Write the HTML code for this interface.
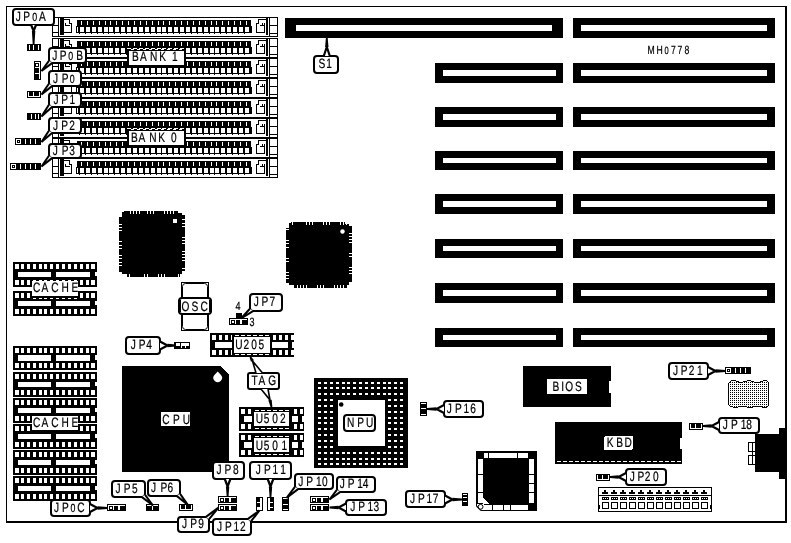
<!DOCTYPE html>
<html><head><meta charset="utf-8"><title>MH0778 motherboard layout</title>
<style>
html,body{margin:0;padding:0;background:#fff;}
svg{display:block;filter:grayscale(1);}
text{font-family:'Liberation Sans', sans-serif;}
</style></head><body>
<svg width="791" height="543" viewBox="0 0 791 543" shape-rendering="crispEdges" text-rendering="geometricPrecision">
<rect x="0" y="0" width="791" height="543" fill="#fff"/>
<rect x="6" y="6" width="781" height="1" fill="#000"/>
<rect x="6" y="6" width="1" height="517" fill="#000"/>
<rect x="785" y="6" width="2" height="517" fill="#000"/>
<rect x="6" y="521" width="781" height="2" fill="#000"/>
<rect x="52" y="17" width="226" height="20" fill="#000"/>
<rect x="53" y="18" width="224" height="18" fill="#fff"/>
<rect x="58" y="17" width="1" height="20" fill="#000"/>
<rect x="52" y="25" width="6" height="1" fill="#000"/>
<rect x="52" y="32" width="6" height="1" fill="#000"/>
<rect x="60" y="17" width="4" height="18" fill="#000"/>
<rect x="63" y="19" width="7" height="1" fill="#000"/>
<rect x="63" y="19" width="1" height="14" fill="#000"/>
<rect x="63" y="32" width="9" height="1" fill="#000"/>
<rect x="71" y="23" width="1" height="10" fill="#000"/>
<rect x="69" y="19" width="1" height="5" fill="#000"/>
<rect x="69" y="23" width="3" height="1" fill="#000"/>
<rect x="65" y="23" width="1" height="3" fill="#000"/>
<rect x="65" y="25" width="5" height="1" fill="#000"/>
<rect x="77" y="20" width="174" height="6" fill="#000"/>
<rect x="76" y="26" width="176" height="7" fill="#000"/>
<rect x="80" y="27" width="4" height="5" fill="#fff"/>
<rect x="81" y="21" width="1" height="4" fill="#fff"/>
<rect x="79" y="33" width="1" height="1" fill="#000"/>
<rect x="86" y="27" width="4" height="5" fill="#fff"/>
<rect x="87" y="21" width="1" height="4" fill="#fff"/>
<rect x="85" y="33" width="1" height="1" fill="#000"/>
<rect x="92" y="27" width="4" height="5" fill="#fff"/>
<rect x="93" y="21" width="1" height="4" fill="#fff"/>
<rect x="91" y="33" width="1" height="1" fill="#000"/>
<rect x="98" y="27" width="4" height="5" fill="#fff"/>
<rect x="99" y="21" width="1" height="4" fill="#fff"/>
<rect x="97" y="33" width="1" height="1" fill="#000"/>
<rect x="104" y="27" width="4" height="5" fill="#fff"/>
<rect x="105" y="21" width="1" height="4" fill="#fff"/>
<rect x="103" y="33" width="1" height="1" fill="#000"/>
<rect x="109" y="27" width="4" height="5" fill="#fff"/>
<rect x="110" y="21" width="1" height="4" fill="#fff"/>
<rect x="108" y="33" width="1" height="1" fill="#000"/>
<rect x="115" y="27" width="4" height="5" fill="#fff"/>
<rect x="116" y="21" width="1" height="4" fill="#fff"/>
<rect x="114" y="33" width="1" height="1" fill="#000"/>
<rect x="121" y="27" width="4" height="5" fill="#fff"/>
<rect x="122" y="21" width="1" height="4" fill="#fff"/>
<rect x="120" y="33" width="1" height="1" fill="#000"/>
<rect x="127" y="27" width="4" height="5" fill="#fff"/>
<rect x="128" y="21" width="1" height="4" fill="#fff"/>
<rect x="126" y="33" width="1" height="1" fill="#000"/>
<rect x="133" y="27" width="4" height="5" fill="#fff"/>
<rect x="134" y="21" width="1" height="4" fill="#fff"/>
<rect x="132" y="33" width="1" height="1" fill="#000"/>
<rect x="139" y="27" width="4" height="5" fill="#fff"/>
<rect x="140" y="21" width="1" height="4" fill="#fff"/>
<rect x="138" y="33" width="1" height="1" fill="#000"/>
<rect x="145" y="27" width="4" height="5" fill="#fff"/>
<rect x="146" y="21" width="1" height="4" fill="#fff"/>
<rect x="144" y="33" width="1" height="1" fill="#000"/>
<rect x="151" y="27" width="4" height="5" fill="#fff"/>
<rect x="152" y="21" width="1" height="4" fill="#fff"/>
<rect x="150" y="33" width="1" height="1" fill="#000"/>
<rect x="157" y="27" width="4" height="5" fill="#fff"/>
<rect x="158" y="21" width="1" height="4" fill="#fff"/>
<rect x="156" y="33" width="1" height="1" fill="#000"/>
<rect x="162" y="27" width="4" height="5" fill="#fff"/>
<rect x="163" y="21" width="1" height="4" fill="#fff"/>
<rect x="161" y="33" width="1" height="1" fill="#000"/>
<rect x="168" y="27" width="4" height="5" fill="#fff"/>
<rect x="169" y="21" width="1" height="4" fill="#fff"/>
<rect x="167" y="33" width="1" height="1" fill="#000"/>
<rect x="174" y="27" width="4" height="5" fill="#fff"/>
<rect x="175" y="21" width="1" height="4" fill="#fff"/>
<rect x="173" y="33" width="1" height="1" fill="#000"/>
<rect x="180" y="27" width="4" height="5" fill="#fff"/>
<rect x="181" y="21" width="1" height="4" fill="#fff"/>
<rect x="179" y="33" width="1" height="1" fill="#000"/>
<rect x="186" y="27" width="4" height="5" fill="#fff"/>
<rect x="187" y="21" width="1" height="4" fill="#fff"/>
<rect x="185" y="33" width="1" height="1" fill="#000"/>
<rect x="192" y="27" width="4" height="5" fill="#fff"/>
<rect x="193" y="21" width="1" height="4" fill="#fff"/>
<rect x="191" y="33" width="1" height="1" fill="#000"/>
<rect x="198" y="27" width="4" height="5" fill="#fff"/>
<rect x="199" y="21" width="1" height="4" fill="#fff"/>
<rect x="197" y="33" width="1" height="1" fill="#000"/>
<rect x="204" y="27" width="4" height="5" fill="#fff"/>
<rect x="205" y="21" width="1" height="4" fill="#fff"/>
<rect x="203" y="33" width="1" height="1" fill="#000"/>
<rect x="210" y="27" width="4" height="5" fill="#fff"/>
<rect x="211" y="21" width="1" height="4" fill="#fff"/>
<rect x="209" y="33" width="1" height="1" fill="#000"/>
<rect x="215" y="27" width="4" height="5" fill="#fff"/>
<rect x="216" y="21" width="1" height="4" fill="#fff"/>
<rect x="214" y="33" width="1" height="1" fill="#000"/>
<rect x="221" y="27" width="4" height="5" fill="#fff"/>
<rect x="222" y="21" width="1" height="4" fill="#fff"/>
<rect x="220" y="33" width="1" height="1" fill="#000"/>
<rect x="227" y="27" width="4" height="5" fill="#fff"/>
<rect x="228" y="21" width="1" height="4" fill="#fff"/>
<rect x="226" y="33" width="1" height="1" fill="#000"/>
<rect x="233" y="27" width="4" height="5" fill="#fff"/>
<rect x="234" y="21" width="1" height="4" fill="#fff"/>
<rect x="232" y="33" width="1" height="1" fill="#000"/>
<rect x="239" y="27" width="4" height="5" fill="#fff"/>
<rect x="240" y="21" width="1" height="4" fill="#fff"/>
<rect x="238" y="33" width="1" height="1" fill="#000"/>
<rect x="245" y="27" width="4" height="5" fill="#fff"/>
<rect x="246" y="21" width="1" height="4" fill="#fff"/>
<rect x="244" y="33" width="1" height="1" fill="#000"/>
<rect x="77" y="27" width="1" height="5" fill="#fff"/>
<rect x="258" y="19" width="8" height="1" fill="#000"/>
<rect x="258" y="19" width="1" height="5" fill="#000"/>
<rect x="256" y="23" width="3" height="1" fill="#000"/>
<rect x="256" y="23" width="1" height="10" fill="#000"/>
<rect x="256" y="32" width="9" height="1" fill="#000"/>
<rect x="264" y="23" width="1" height="10" fill="#000"/>
<rect x="260" y="25" width="5" height="1" fill="#000"/>
<rect x="262" y="23" width="1" height="3" fill="#000"/>
<rect x="266" y="17" width="2" height="18" fill="#000"/>
<rect x="269" y="17" width="1" height="20" fill="#000"/>
<rect x="270" y="25" width="8" height="1" fill="#000"/>
<rect x="270" y="33" width="8" height="1" fill="#000"/>
<rect x="52" y="38" width="226" height="20" fill="#000"/>
<rect x="53" y="39" width="224" height="18" fill="#fff"/>
<rect x="58" y="38" width="1" height="20" fill="#000"/>
<rect x="52" y="46" width="6" height="1" fill="#000"/>
<rect x="52" y="53" width="6" height="1" fill="#000"/>
<rect x="60" y="38" width="4" height="18" fill="#000"/>
<rect x="63" y="40" width="7" height="1" fill="#000"/>
<rect x="63" y="40" width="1" height="14" fill="#000"/>
<rect x="63" y="53" width="9" height="1" fill="#000"/>
<rect x="71" y="44" width="1" height="10" fill="#000"/>
<rect x="69" y="40" width="1" height="5" fill="#000"/>
<rect x="69" y="44" width="3" height="1" fill="#000"/>
<rect x="65" y="44" width="1" height="3" fill="#000"/>
<rect x="65" y="46" width="5" height="1" fill="#000"/>
<rect x="77" y="41" width="174" height="6" fill="#000"/>
<rect x="76" y="47" width="176" height="7" fill="#000"/>
<rect x="80" y="48" width="4" height="5" fill="#fff"/>
<rect x="81" y="42" width="1" height="4" fill="#fff"/>
<rect x="79" y="54" width="1" height="1" fill="#000"/>
<rect x="86" y="48" width="4" height="5" fill="#fff"/>
<rect x="87" y="42" width="1" height="4" fill="#fff"/>
<rect x="85" y="54" width="1" height="1" fill="#000"/>
<rect x="92" y="48" width="4" height="5" fill="#fff"/>
<rect x="93" y="42" width="1" height="4" fill="#fff"/>
<rect x="91" y="54" width="1" height="1" fill="#000"/>
<rect x="98" y="48" width="4" height="5" fill="#fff"/>
<rect x="99" y="42" width="1" height="4" fill="#fff"/>
<rect x="97" y="54" width="1" height="1" fill="#000"/>
<rect x="104" y="48" width="4" height="5" fill="#fff"/>
<rect x="105" y="42" width="1" height="4" fill="#fff"/>
<rect x="103" y="54" width="1" height="1" fill="#000"/>
<rect x="109" y="48" width="4" height="5" fill="#fff"/>
<rect x="110" y="42" width="1" height="4" fill="#fff"/>
<rect x="108" y="54" width="1" height="1" fill="#000"/>
<rect x="115" y="48" width="4" height="5" fill="#fff"/>
<rect x="116" y="42" width="1" height="4" fill="#fff"/>
<rect x="114" y="54" width="1" height="1" fill="#000"/>
<rect x="121" y="48" width="4" height="5" fill="#fff"/>
<rect x="122" y="42" width="1" height="4" fill="#fff"/>
<rect x="120" y="54" width="1" height="1" fill="#000"/>
<rect x="127" y="48" width="4" height="5" fill="#fff"/>
<rect x="128" y="42" width="1" height="4" fill="#fff"/>
<rect x="126" y="54" width="1" height="1" fill="#000"/>
<rect x="133" y="48" width="4" height="5" fill="#fff"/>
<rect x="134" y="42" width="1" height="4" fill="#fff"/>
<rect x="132" y="54" width="1" height="1" fill="#000"/>
<rect x="139" y="48" width="4" height="5" fill="#fff"/>
<rect x="140" y="42" width="1" height="4" fill="#fff"/>
<rect x="138" y="54" width="1" height="1" fill="#000"/>
<rect x="145" y="48" width="4" height="5" fill="#fff"/>
<rect x="146" y="42" width="1" height="4" fill="#fff"/>
<rect x="144" y="54" width="1" height="1" fill="#000"/>
<rect x="151" y="48" width="4" height="5" fill="#fff"/>
<rect x="152" y="42" width="1" height="4" fill="#fff"/>
<rect x="150" y="54" width="1" height="1" fill="#000"/>
<rect x="157" y="48" width="4" height="5" fill="#fff"/>
<rect x="158" y="42" width="1" height="4" fill="#fff"/>
<rect x="156" y="54" width="1" height="1" fill="#000"/>
<rect x="162" y="48" width="4" height="5" fill="#fff"/>
<rect x="163" y="42" width="1" height="4" fill="#fff"/>
<rect x="161" y="54" width="1" height="1" fill="#000"/>
<rect x="168" y="48" width="4" height="5" fill="#fff"/>
<rect x="169" y="42" width="1" height="4" fill="#fff"/>
<rect x="167" y="54" width="1" height="1" fill="#000"/>
<rect x="174" y="48" width="4" height="5" fill="#fff"/>
<rect x="175" y="42" width="1" height="4" fill="#fff"/>
<rect x="173" y="54" width="1" height="1" fill="#000"/>
<rect x="180" y="48" width="4" height="5" fill="#fff"/>
<rect x="181" y="42" width="1" height="4" fill="#fff"/>
<rect x="179" y="54" width="1" height="1" fill="#000"/>
<rect x="186" y="48" width="4" height="5" fill="#fff"/>
<rect x="187" y="42" width="1" height="4" fill="#fff"/>
<rect x="185" y="54" width="1" height="1" fill="#000"/>
<rect x="192" y="48" width="4" height="5" fill="#fff"/>
<rect x="193" y="42" width="1" height="4" fill="#fff"/>
<rect x="191" y="54" width="1" height="1" fill="#000"/>
<rect x="198" y="48" width="4" height="5" fill="#fff"/>
<rect x="199" y="42" width="1" height="4" fill="#fff"/>
<rect x="197" y="54" width="1" height="1" fill="#000"/>
<rect x="204" y="48" width="4" height="5" fill="#fff"/>
<rect x="205" y="42" width="1" height="4" fill="#fff"/>
<rect x="203" y="54" width="1" height="1" fill="#000"/>
<rect x="210" y="48" width="4" height="5" fill="#fff"/>
<rect x="211" y="42" width="1" height="4" fill="#fff"/>
<rect x="209" y="54" width="1" height="1" fill="#000"/>
<rect x="215" y="48" width="4" height="5" fill="#fff"/>
<rect x="216" y="42" width="1" height="4" fill="#fff"/>
<rect x="214" y="54" width="1" height="1" fill="#000"/>
<rect x="221" y="48" width="4" height="5" fill="#fff"/>
<rect x="222" y="42" width="1" height="4" fill="#fff"/>
<rect x="220" y="54" width="1" height="1" fill="#000"/>
<rect x="227" y="48" width="4" height="5" fill="#fff"/>
<rect x="228" y="42" width="1" height="4" fill="#fff"/>
<rect x="226" y="54" width="1" height="1" fill="#000"/>
<rect x="233" y="48" width="4" height="5" fill="#fff"/>
<rect x="234" y="42" width="1" height="4" fill="#fff"/>
<rect x="232" y="54" width="1" height="1" fill="#000"/>
<rect x="239" y="48" width="4" height="5" fill="#fff"/>
<rect x="240" y="42" width="1" height="4" fill="#fff"/>
<rect x="238" y="54" width="1" height="1" fill="#000"/>
<rect x="245" y="48" width="4" height="5" fill="#fff"/>
<rect x="246" y="42" width="1" height="4" fill="#fff"/>
<rect x="244" y="54" width="1" height="1" fill="#000"/>
<rect x="77" y="48" width="1" height="5" fill="#fff"/>
<rect x="258" y="40" width="8" height="1" fill="#000"/>
<rect x="258" y="40" width="1" height="5" fill="#000"/>
<rect x="256" y="44" width="3" height="1" fill="#000"/>
<rect x="256" y="44" width="1" height="10" fill="#000"/>
<rect x="256" y="53" width="9" height="1" fill="#000"/>
<rect x="264" y="44" width="1" height="10" fill="#000"/>
<rect x="260" y="46" width="5" height="1" fill="#000"/>
<rect x="262" y="44" width="1" height="3" fill="#000"/>
<rect x="266" y="38" width="2" height="18" fill="#000"/>
<rect x="269" y="38" width="1" height="20" fill="#000"/>
<rect x="270" y="46" width="8" height="1" fill="#000"/>
<rect x="270" y="54" width="8" height="1" fill="#000"/>
<rect x="52" y="58" width="226" height="20" fill="#000"/>
<rect x="53" y="59" width="224" height="18" fill="#fff"/>
<rect x="58" y="58" width="1" height="20" fill="#000"/>
<rect x="52" y="66" width="6" height="1" fill="#000"/>
<rect x="52" y="73" width="6" height="1" fill="#000"/>
<rect x="60" y="58" width="4" height="18" fill="#000"/>
<rect x="63" y="60" width="7" height="1" fill="#000"/>
<rect x="63" y="60" width="1" height="14" fill="#000"/>
<rect x="63" y="73" width="9" height="1" fill="#000"/>
<rect x="71" y="64" width="1" height="10" fill="#000"/>
<rect x="69" y="60" width="1" height="5" fill="#000"/>
<rect x="69" y="64" width="3" height="1" fill="#000"/>
<rect x="65" y="64" width="1" height="3" fill="#000"/>
<rect x="65" y="66" width="5" height="1" fill="#000"/>
<rect x="77" y="61" width="174" height="6" fill="#000"/>
<rect x="76" y="67" width="176" height="7" fill="#000"/>
<rect x="80" y="68" width="4" height="5" fill="#fff"/>
<rect x="81" y="62" width="1" height="4" fill="#fff"/>
<rect x="79" y="74" width="1" height="1" fill="#000"/>
<rect x="86" y="68" width="4" height="5" fill="#fff"/>
<rect x="87" y="62" width="1" height="4" fill="#fff"/>
<rect x="85" y="74" width="1" height="1" fill="#000"/>
<rect x="92" y="68" width="4" height="5" fill="#fff"/>
<rect x="93" y="62" width="1" height="4" fill="#fff"/>
<rect x="91" y="74" width="1" height="1" fill="#000"/>
<rect x="98" y="68" width="4" height="5" fill="#fff"/>
<rect x="99" y="62" width="1" height="4" fill="#fff"/>
<rect x="97" y="74" width="1" height="1" fill="#000"/>
<rect x="104" y="68" width="4" height="5" fill="#fff"/>
<rect x="105" y="62" width="1" height="4" fill="#fff"/>
<rect x="103" y="74" width="1" height="1" fill="#000"/>
<rect x="109" y="68" width="4" height="5" fill="#fff"/>
<rect x="110" y="62" width="1" height="4" fill="#fff"/>
<rect x="108" y="74" width="1" height="1" fill="#000"/>
<rect x="115" y="68" width="4" height="5" fill="#fff"/>
<rect x="116" y="62" width="1" height="4" fill="#fff"/>
<rect x="114" y="74" width="1" height="1" fill="#000"/>
<rect x="121" y="68" width="4" height="5" fill="#fff"/>
<rect x="122" y="62" width="1" height="4" fill="#fff"/>
<rect x="120" y="74" width="1" height="1" fill="#000"/>
<rect x="127" y="68" width="4" height="5" fill="#fff"/>
<rect x="128" y="62" width="1" height="4" fill="#fff"/>
<rect x="126" y="74" width="1" height="1" fill="#000"/>
<rect x="133" y="68" width="4" height="5" fill="#fff"/>
<rect x="134" y="62" width="1" height="4" fill="#fff"/>
<rect x="132" y="74" width="1" height="1" fill="#000"/>
<rect x="139" y="68" width="4" height="5" fill="#fff"/>
<rect x="140" y="62" width="1" height="4" fill="#fff"/>
<rect x="138" y="74" width="1" height="1" fill="#000"/>
<rect x="145" y="68" width="4" height="5" fill="#fff"/>
<rect x="146" y="62" width="1" height="4" fill="#fff"/>
<rect x="144" y="74" width="1" height="1" fill="#000"/>
<rect x="151" y="68" width="4" height="5" fill="#fff"/>
<rect x="152" y="62" width="1" height="4" fill="#fff"/>
<rect x="150" y="74" width="1" height="1" fill="#000"/>
<rect x="157" y="68" width="4" height="5" fill="#fff"/>
<rect x="158" y="62" width="1" height="4" fill="#fff"/>
<rect x="156" y="74" width="1" height="1" fill="#000"/>
<rect x="162" y="68" width="4" height="5" fill="#fff"/>
<rect x="163" y="62" width="1" height="4" fill="#fff"/>
<rect x="161" y="74" width="1" height="1" fill="#000"/>
<rect x="168" y="68" width="4" height="5" fill="#fff"/>
<rect x="169" y="62" width="1" height="4" fill="#fff"/>
<rect x="167" y="74" width="1" height="1" fill="#000"/>
<rect x="174" y="68" width="4" height="5" fill="#fff"/>
<rect x="175" y="62" width="1" height="4" fill="#fff"/>
<rect x="173" y="74" width="1" height="1" fill="#000"/>
<rect x="180" y="68" width="4" height="5" fill="#fff"/>
<rect x="181" y="62" width="1" height="4" fill="#fff"/>
<rect x="179" y="74" width="1" height="1" fill="#000"/>
<rect x="186" y="68" width="4" height="5" fill="#fff"/>
<rect x="187" y="62" width="1" height="4" fill="#fff"/>
<rect x="185" y="74" width="1" height="1" fill="#000"/>
<rect x="192" y="68" width="4" height="5" fill="#fff"/>
<rect x="193" y="62" width="1" height="4" fill="#fff"/>
<rect x="191" y="74" width="1" height="1" fill="#000"/>
<rect x="198" y="68" width="4" height="5" fill="#fff"/>
<rect x="199" y="62" width="1" height="4" fill="#fff"/>
<rect x="197" y="74" width="1" height="1" fill="#000"/>
<rect x="204" y="68" width="4" height="5" fill="#fff"/>
<rect x="205" y="62" width="1" height="4" fill="#fff"/>
<rect x="203" y="74" width="1" height="1" fill="#000"/>
<rect x="210" y="68" width="4" height="5" fill="#fff"/>
<rect x="211" y="62" width="1" height="4" fill="#fff"/>
<rect x="209" y="74" width="1" height="1" fill="#000"/>
<rect x="215" y="68" width="4" height="5" fill="#fff"/>
<rect x="216" y="62" width="1" height="4" fill="#fff"/>
<rect x="214" y="74" width="1" height="1" fill="#000"/>
<rect x="221" y="68" width="4" height="5" fill="#fff"/>
<rect x="222" y="62" width="1" height="4" fill="#fff"/>
<rect x="220" y="74" width="1" height="1" fill="#000"/>
<rect x="227" y="68" width="4" height="5" fill="#fff"/>
<rect x="228" y="62" width="1" height="4" fill="#fff"/>
<rect x="226" y="74" width="1" height="1" fill="#000"/>
<rect x="233" y="68" width="4" height="5" fill="#fff"/>
<rect x="234" y="62" width="1" height="4" fill="#fff"/>
<rect x="232" y="74" width="1" height="1" fill="#000"/>
<rect x="239" y="68" width="4" height="5" fill="#fff"/>
<rect x="240" y="62" width="1" height="4" fill="#fff"/>
<rect x="238" y="74" width="1" height="1" fill="#000"/>
<rect x="245" y="68" width="4" height="5" fill="#fff"/>
<rect x="246" y="62" width="1" height="4" fill="#fff"/>
<rect x="244" y="74" width="1" height="1" fill="#000"/>
<rect x="77" y="68" width="1" height="5" fill="#fff"/>
<rect x="258" y="60" width="8" height="1" fill="#000"/>
<rect x="258" y="60" width="1" height="5" fill="#000"/>
<rect x="256" y="64" width="3" height="1" fill="#000"/>
<rect x="256" y="64" width="1" height="10" fill="#000"/>
<rect x="256" y="73" width="9" height="1" fill="#000"/>
<rect x="264" y="64" width="1" height="10" fill="#000"/>
<rect x="260" y="66" width="5" height="1" fill="#000"/>
<rect x="262" y="64" width="1" height="3" fill="#000"/>
<rect x="266" y="58" width="2" height="18" fill="#000"/>
<rect x="269" y="58" width="1" height="20" fill="#000"/>
<rect x="270" y="66" width="8" height="1" fill="#000"/>
<rect x="270" y="74" width="8" height="1" fill="#000"/>
<rect x="52" y="78" width="226" height="20" fill="#000"/>
<rect x="53" y="79" width="224" height="18" fill="#fff"/>
<rect x="58" y="78" width="1" height="20" fill="#000"/>
<rect x="52" y="86" width="6" height="1" fill="#000"/>
<rect x="52" y="93" width="6" height="1" fill="#000"/>
<rect x="60" y="78" width="4" height="18" fill="#000"/>
<rect x="63" y="80" width="7" height="1" fill="#000"/>
<rect x="63" y="80" width="1" height="14" fill="#000"/>
<rect x="63" y="93" width="9" height="1" fill="#000"/>
<rect x="71" y="84" width="1" height="10" fill="#000"/>
<rect x="69" y="80" width="1" height="5" fill="#000"/>
<rect x="69" y="84" width="3" height="1" fill="#000"/>
<rect x="65" y="84" width="1" height="3" fill="#000"/>
<rect x="65" y="86" width="5" height="1" fill="#000"/>
<rect x="77" y="81" width="174" height="6" fill="#000"/>
<rect x="76" y="87" width="176" height="7" fill="#000"/>
<rect x="80" y="88" width="4" height="5" fill="#fff"/>
<rect x="81" y="82" width="1" height="4" fill="#fff"/>
<rect x="79" y="94" width="1" height="1" fill="#000"/>
<rect x="86" y="88" width="4" height="5" fill="#fff"/>
<rect x="87" y="82" width="1" height="4" fill="#fff"/>
<rect x="85" y="94" width="1" height="1" fill="#000"/>
<rect x="92" y="88" width="4" height="5" fill="#fff"/>
<rect x="93" y="82" width="1" height="4" fill="#fff"/>
<rect x="91" y="94" width="1" height="1" fill="#000"/>
<rect x="98" y="88" width="4" height="5" fill="#fff"/>
<rect x="99" y="82" width="1" height="4" fill="#fff"/>
<rect x="97" y="94" width="1" height="1" fill="#000"/>
<rect x="104" y="88" width="4" height="5" fill="#fff"/>
<rect x="105" y="82" width="1" height="4" fill="#fff"/>
<rect x="103" y="94" width="1" height="1" fill="#000"/>
<rect x="109" y="88" width="4" height="5" fill="#fff"/>
<rect x="110" y="82" width="1" height="4" fill="#fff"/>
<rect x="108" y="94" width="1" height="1" fill="#000"/>
<rect x="115" y="88" width="4" height="5" fill="#fff"/>
<rect x="116" y="82" width="1" height="4" fill="#fff"/>
<rect x="114" y="94" width="1" height="1" fill="#000"/>
<rect x="121" y="88" width="4" height="5" fill="#fff"/>
<rect x="122" y="82" width="1" height="4" fill="#fff"/>
<rect x="120" y="94" width="1" height="1" fill="#000"/>
<rect x="127" y="88" width="4" height="5" fill="#fff"/>
<rect x="128" y="82" width="1" height="4" fill="#fff"/>
<rect x="126" y="94" width="1" height="1" fill="#000"/>
<rect x="133" y="88" width="4" height="5" fill="#fff"/>
<rect x="134" y="82" width="1" height="4" fill="#fff"/>
<rect x="132" y="94" width="1" height="1" fill="#000"/>
<rect x="139" y="88" width="4" height="5" fill="#fff"/>
<rect x="140" y="82" width="1" height="4" fill="#fff"/>
<rect x="138" y="94" width="1" height="1" fill="#000"/>
<rect x="145" y="88" width="4" height="5" fill="#fff"/>
<rect x="146" y="82" width="1" height="4" fill="#fff"/>
<rect x="144" y="94" width="1" height="1" fill="#000"/>
<rect x="151" y="88" width="4" height="5" fill="#fff"/>
<rect x="152" y="82" width="1" height="4" fill="#fff"/>
<rect x="150" y="94" width="1" height="1" fill="#000"/>
<rect x="157" y="88" width="4" height="5" fill="#fff"/>
<rect x="158" y="82" width="1" height="4" fill="#fff"/>
<rect x="156" y="94" width="1" height="1" fill="#000"/>
<rect x="162" y="88" width="4" height="5" fill="#fff"/>
<rect x="163" y="82" width="1" height="4" fill="#fff"/>
<rect x="161" y="94" width="1" height="1" fill="#000"/>
<rect x="168" y="88" width="4" height="5" fill="#fff"/>
<rect x="169" y="82" width="1" height="4" fill="#fff"/>
<rect x="167" y="94" width="1" height="1" fill="#000"/>
<rect x="174" y="88" width="4" height="5" fill="#fff"/>
<rect x="175" y="82" width="1" height="4" fill="#fff"/>
<rect x="173" y="94" width="1" height="1" fill="#000"/>
<rect x="180" y="88" width="4" height="5" fill="#fff"/>
<rect x="181" y="82" width="1" height="4" fill="#fff"/>
<rect x="179" y="94" width="1" height="1" fill="#000"/>
<rect x="186" y="88" width="4" height="5" fill="#fff"/>
<rect x="187" y="82" width="1" height="4" fill="#fff"/>
<rect x="185" y="94" width="1" height="1" fill="#000"/>
<rect x="192" y="88" width="4" height="5" fill="#fff"/>
<rect x="193" y="82" width="1" height="4" fill="#fff"/>
<rect x="191" y="94" width="1" height="1" fill="#000"/>
<rect x="198" y="88" width="4" height="5" fill="#fff"/>
<rect x="199" y="82" width="1" height="4" fill="#fff"/>
<rect x="197" y="94" width="1" height="1" fill="#000"/>
<rect x="204" y="88" width="4" height="5" fill="#fff"/>
<rect x="205" y="82" width="1" height="4" fill="#fff"/>
<rect x="203" y="94" width="1" height="1" fill="#000"/>
<rect x="210" y="88" width="4" height="5" fill="#fff"/>
<rect x="211" y="82" width="1" height="4" fill="#fff"/>
<rect x="209" y="94" width="1" height="1" fill="#000"/>
<rect x="215" y="88" width="4" height="5" fill="#fff"/>
<rect x="216" y="82" width="1" height="4" fill="#fff"/>
<rect x="214" y="94" width="1" height="1" fill="#000"/>
<rect x="221" y="88" width="4" height="5" fill="#fff"/>
<rect x="222" y="82" width="1" height="4" fill="#fff"/>
<rect x="220" y="94" width="1" height="1" fill="#000"/>
<rect x="227" y="88" width="4" height="5" fill="#fff"/>
<rect x="228" y="82" width="1" height="4" fill="#fff"/>
<rect x="226" y="94" width="1" height="1" fill="#000"/>
<rect x="233" y="88" width="4" height="5" fill="#fff"/>
<rect x="234" y="82" width="1" height="4" fill="#fff"/>
<rect x="232" y="94" width="1" height="1" fill="#000"/>
<rect x="239" y="88" width="4" height="5" fill="#fff"/>
<rect x="240" y="82" width="1" height="4" fill="#fff"/>
<rect x="238" y="94" width="1" height="1" fill="#000"/>
<rect x="245" y="88" width="4" height="5" fill="#fff"/>
<rect x="246" y="82" width="1" height="4" fill="#fff"/>
<rect x="244" y="94" width="1" height="1" fill="#000"/>
<rect x="77" y="88" width="1" height="5" fill="#fff"/>
<rect x="258" y="80" width="8" height="1" fill="#000"/>
<rect x="258" y="80" width="1" height="5" fill="#000"/>
<rect x="256" y="84" width="3" height="1" fill="#000"/>
<rect x="256" y="84" width="1" height="10" fill="#000"/>
<rect x="256" y="93" width="9" height="1" fill="#000"/>
<rect x="264" y="84" width="1" height="10" fill="#000"/>
<rect x="260" y="86" width="5" height="1" fill="#000"/>
<rect x="262" y="84" width="1" height="3" fill="#000"/>
<rect x="266" y="78" width="2" height="18" fill="#000"/>
<rect x="269" y="78" width="1" height="20" fill="#000"/>
<rect x="270" y="86" width="8" height="1" fill="#000"/>
<rect x="270" y="94" width="8" height="1" fill="#000"/>
<rect x="52" y="98" width="226" height="20" fill="#000"/>
<rect x="53" y="99" width="224" height="18" fill="#fff"/>
<rect x="58" y="98" width="1" height="20" fill="#000"/>
<rect x="52" y="106" width="6" height="1" fill="#000"/>
<rect x="52" y="113" width="6" height="1" fill="#000"/>
<rect x="60" y="98" width="4" height="18" fill="#000"/>
<rect x="63" y="100" width="7" height="1" fill="#000"/>
<rect x="63" y="100" width="1" height="14" fill="#000"/>
<rect x="63" y="113" width="9" height="1" fill="#000"/>
<rect x="71" y="104" width="1" height="10" fill="#000"/>
<rect x="69" y="100" width="1" height="5" fill="#000"/>
<rect x="69" y="104" width="3" height="1" fill="#000"/>
<rect x="65" y="104" width="1" height="3" fill="#000"/>
<rect x="65" y="106" width="5" height="1" fill="#000"/>
<rect x="77" y="101" width="174" height="6" fill="#000"/>
<rect x="76" y="107" width="176" height="7" fill="#000"/>
<rect x="80" y="108" width="4" height="5" fill="#fff"/>
<rect x="81" y="102" width="1" height="4" fill="#fff"/>
<rect x="79" y="114" width="1" height="1" fill="#000"/>
<rect x="86" y="108" width="4" height="5" fill="#fff"/>
<rect x="87" y="102" width="1" height="4" fill="#fff"/>
<rect x="85" y="114" width="1" height="1" fill="#000"/>
<rect x="92" y="108" width="4" height="5" fill="#fff"/>
<rect x="93" y="102" width="1" height="4" fill="#fff"/>
<rect x="91" y="114" width="1" height="1" fill="#000"/>
<rect x="98" y="108" width="4" height="5" fill="#fff"/>
<rect x="99" y="102" width="1" height="4" fill="#fff"/>
<rect x="97" y="114" width="1" height="1" fill="#000"/>
<rect x="104" y="108" width="4" height="5" fill="#fff"/>
<rect x="105" y="102" width="1" height="4" fill="#fff"/>
<rect x="103" y="114" width="1" height="1" fill="#000"/>
<rect x="109" y="108" width="4" height="5" fill="#fff"/>
<rect x="110" y="102" width="1" height="4" fill="#fff"/>
<rect x="108" y="114" width="1" height="1" fill="#000"/>
<rect x="115" y="108" width="4" height="5" fill="#fff"/>
<rect x="116" y="102" width="1" height="4" fill="#fff"/>
<rect x="114" y="114" width="1" height="1" fill="#000"/>
<rect x="121" y="108" width="4" height="5" fill="#fff"/>
<rect x="122" y="102" width="1" height="4" fill="#fff"/>
<rect x="120" y="114" width="1" height="1" fill="#000"/>
<rect x="127" y="108" width="4" height="5" fill="#fff"/>
<rect x="128" y="102" width="1" height="4" fill="#fff"/>
<rect x="126" y="114" width="1" height="1" fill="#000"/>
<rect x="133" y="108" width="4" height="5" fill="#fff"/>
<rect x="134" y="102" width="1" height="4" fill="#fff"/>
<rect x="132" y="114" width="1" height="1" fill="#000"/>
<rect x="139" y="108" width="4" height="5" fill="#fff"/>
<rect x="140" y="102" width="1" height="4" fill="#fff"/>
<rect x="138" y="114" width="1" height="1" fill="#000"/>
<rect x="145" y="108" width="4" height="5" fill="#fff"/>
<rect x="146" y="102" width="1" height="4" fill="#fff"/>
<rect x="144" y="114" width="1" height="1" fill="#000"/>
<rect x="151" y="108" width="4" height="5" fill="#fff"/>
<rect x="152" y="102" width="1" height="4" fill="#fff"/>
<rect x="150" y="114" width="1" height="1" fill="#000"/>
<rect x="157" y="108" width="4" height="5" fill="#fff"/>
<rect x="158" y="102" width="1" height="4" fill="#fff"/>
<rect x="156" y="114" width="1" height="1" fill="#000"/>
<rect x="162" y="108" width="4" height="5" fill="#fff"/>
<rect x="163" y="102" width="1" height="4" fill="#fff"/>
<rect x="161" y="114" width="1" height="1" fill="#000"/>
<rect x="168" y="108" width="4" height="5" fill="#fff"/>
<rect x="169" y="102" width="1" height="4" fill="#fff"/>
<rect x="167" y="114" width="1" height="1" fill="#000"/>
<rect x="174" y="108" width="4" height="5" fill="#fff"/>
<rect x="175" y="102" width="1" height="4" fill="#fff"/>
<rect x="173" y="114" width="1" height="1" fill="#000"/>
<rect x="180" y="108" width="4" height="5" fill="#fff"/>
<rect x="181" y="102" width="1" height="4" fill="#fff"/>
<rect x="179" y="114" width="1" height="1" fill="#000"/>
<rect x="186" y="108" width="4" height="5" fill="#fff"/>
<rect x="187" y="102" width="1" height="4" fill="#fff"/>
<rect x="185" y="114" width="1" height="1" fill="#000"/>
<rect x="192" y="108" width="4" height="5" fill="#fff"/>
<rect x="193" y="102" width="1" height="4" fill="#fff"/>
<rect x="191" y="114" width="1" height="1" fill="#000"/>
<rect x="198" y="108" width="4" height="5" fill="#fff"/>
<rect x="199" y="102" width="1" height="4" fill="#fff"/>
<rect x="197" y="114" width="1" height="1" fill="#000"/>
<rect x="204" y="108" width="4" height="5" fill="#fff"/>
<rect x="205" y="102" width="1" height="4" fill="#fff"/>
<rect x="203" y="114" width="1" height="1" fill="#000"/>
<rect x="210" y="108" width="4" height="5" fill="#fff"/>
<rect x="211" y="102" width="1" height="4" fill="#fff"/>
<rect x="209" y="114" width="1" height="1" fill="#000"/>
<rect x="215" y="108" width="4" height="5" fill="#fff"/>
<rect x="216" y="102" width="1" height="4" fill="#fff"/>
<rect x="214" y="114" width="1" height="1" fill="#000"/>
<rect x="221" y="108" width="4" height="5" fill="#fff"/>
<rect x="222" y="102" width="1" height="4" fill="#fff"/>
<rect x="220" y="114" width="1" height="1" fill="#000"/>
<rect x="227" y="108" width="4" height="5" fill="#fff"/>
<rect x="228" y="102" width="1" height="4" fill="#fff"/>
<rect x="226" y="114" width="1" height="1" fill="#000"/>
<rect x="233" y="108" width="4" height="5" fill="#fff"/>
<rect x="234" y="102" width="1" height="4" fill="#fff"/>
<rect x="232" y="114" width="1" height="1" fill="#000"/>
<rect x="239" y="108" width="4" height="5" fill="#fff"/>
<rect x="240" y="102" width="1" height="4" fill="#fff"/>
<rect x="238" y="114" width="1" height="1" fill="#000"/>
<rect x="245" y="108" width="4" height="5" fill="#fff"/>
<rect x="246" y="102" width="1" height="4" fill="#fff"/>
<rect x="244" y="114" width="1" height="1" fill="#000"/>
<rect x="77" y="108" width="1" height="5" fill="#fff"/>
<rect x="258" y="100" width="8" height="1" fill="#000"/>
<rect x="258" y="100" width="1" height="5" fill="#000"/>
<rect x="256" y="104" width="3" height="1" fill="#000"/>
<rect x="256" y="104" width="1" height="10" fill="#000"/>
<rect x="256" y="113" width="9" height="1" fill="#000"/>
<rect x="264" y="104" width="1" height="10" fill="#000"/>
<rect x="260" y="106" width="5" height="1" fill="#000"/>
<rect x="262" y="104" width="1" height="3" fill="#000"/>
<rect x="266" y="98" width="2" height="18" fill="#000"/>
<rect x="269" y="98" width="1" height="20" fill="#000"/>
<rect x="270" y="106" width="8" height="1" fill="#000"/>
<rect x="270" y="114" width="8" height="1" fill="#000"/>
<rect x="52" y="118" width="226" height="20" fill="#000"/>
<rect x="53" y="119" width="224" height="18" fill="#fff"/>
<rect x="58" y="118" width="1" height="20" fill="#000"/>
<rect x="52" y="126" width="6" height="1" fill="#000"/>
<rect x="52" y="133" width="6" height="1" fill="#000"/>
<rect x="60" y="118" width="4" height="18" fill="#000"/>
<rect x="63" y="120" width="7" height="1" fill="#000"/>
<rect x="63" y="120" width="1" height="14" fill="#000"/>
<rect x="63" y="133" width="9" height="1" fill="#000"/>
<rect x="71" y="124" width="1" height="10" fill="#000"/>
<rect x="69" y="120" width="1" height="5" fill="#000"/>
<rect x="69" y="124" width="3" height="1" fill="#000"/>
<rect x="65" y="124" width="1" height="3" fill="#000"/>
<rect x="65" y="126" width="5" height="1" fill="#000"/>
<rect x="77" y="121" width="174" height="6" fill="#000"/>
<rect x="76" y="127" width="176" height="7" fill="#000"/>
<rect x="80" y="128" width="4" height="5" fill="#fff"/>
<rect x="81" y="122" width="1" height="4" fill="#fff"/>
<rect x="79" y="134" width="1" height="1" fill="#000"/>
<rect x="86" y="128" width="4" height="5" fill="#fff"/>
<rect x="87" y="122" width="1" height="4" fill="#fff"/>
<rect x="85" y="134" width="1" height="1" fill="#000"/>
<rect x="92" y="128" width="4" height="5" fill="#fff"/>
<rect x="93" y="122" width="1" height="4" fill="#fff"/>
<rect x="91" y="134" width="1" height="1" fill="#000"/>
<rect x="98" y="128" width="4" height="5" fill="#fff"/>
<rect x="99" y="122" width="1" height="4" fill="#fff"/>
<rect x="97" y="134" width="1" height="1" fill="#000"/>
<rect x="104" y="128" width="4" height="5" fill="#fff"/>
<rect x="105" y="122" width="1" height="4" fill="#fff"/>
<rect x="103" y="134" width="1" height="1" fill="#000"/>
<rect x="109" y="128" width="4" height="5" fill="#fff"/>
<rect x="110" y="122" width="1" height="4" fill="#fff"/>
<rect x="108" y="134" width="1" height="1" fill="#000"/>
<rect x="115" y="128" width="4" height="5" fill="#fff"/>
<rect x="116" y="122" width="1" height="4" fill="#fff"/>
<rect x="114" y="134" width="1" height="1" fill="#000"/>
<rect x="121" y="128" width="4" height="5" fill="#fff"/>
<rect x="122" y="122" width="1" height="4" fill="#fff"/>
<rect x="120" y="134" width="1" height="1" fill="#000"/>
<rect x="127" y="128" width="4" height="5" fill="#fff"/>
<rect x="128" y="122" width="1" height="4" fill="#fff"/>
<rect x="126" y="134" width="1" height="1" fill="#000"/>
<rect x="133" y="128" width="4" height="5" fill="#fff"/>
<rect x="134" y="122" width="1" height="4" fill="#fff"/>
<rect x="132" y="134" width="1" height="1" fill="#000"/>
<rect x="139" y="128" width="4" height="5" fill="#fff"/>
<rect x="140" y="122" width="1" height="4" fill="#fff"/>
<rect x="138" y="134" width="1" height="1" fill="#000"/>
<rect x="145" y="128" width="4" height="5" fill="#fff"/>
<rect x="146" y="122" width="1" height="4" fill="#fff"/>
<rect x="144" y="134" width="1" height="1" fill="#000"/>
<rect x="151" y="128" width="4" height="5" fill="#fff"/>
<rect x="152" y="122" width="1" height="4" fill="#fff"/>
<rect x="150" y="134" width="1" height="1" fill="#000"/>
<rect x="157" y="128" width="4" height="5" fill="#fff"/>
<rect x="158" y="122" width="1" height="4" fill="#fff"/>
<rect x="156" y="134" width="1" height="1" fill="#000"/>
<rect x="162" y="128" width="4" height="5" fill="#fff"/>
<rect x="163" y="122" width="1" height="4" fill="#fff"/>
<rect x="161" y="134" width="1" height="1" fill="#000"/>
<rect x="168" y="128" width="4" height="5" fill="#fff"/>
<rect x="169" y="122" width="1" height="4" fill="#fff"/>
<rect x="167" y="134" width="1" height="1" fill="#000"/>
<rect x="174" y="128" width="4" height="5" fill="#fff"/>
<rect x="175" y="122" width="1" height="4" fill="#fff"/>
<rect x="173" y="134" width="1" height="1" fill="#000"/>
<rect x="180" y="128" width="4" height="5" fill="#fff"/>
<rect x="181" y="122" width="1" height="4" fill="#fff"/>
<rect x="179" y="134" width="1" height="1" fill="#000"/>
<rect x="186" y="128" width="4" height="5" fill="#fff"/>
<rect x="187" y="122" width="1" height="4" fill="#fff"/>
<rect x="185" y="134" width="1" height="1" fill="#000"/>
<rect x="192" y="128" width="4" height="5" fill="#fff"/>
<rect x="193" y="122" width="1" height="4" fill="#fff"/>
<rect x="191" y="134" width="1" height="1" fill="#000"/>
<rect x="198" y="128" width="4" height="5" fill="#fff"/>
<rect x="199" y="122" width="1" height="4" fill="#fff"/>
<rect x="197" y="134" width="1" height="1" fill="#000"/>
<rect x="204" y="128" width="4" height="5" fill="#fff"/>
<rect x="205" y="122" width="1" height="4" fill="#fff"/>
<rect x="203" y="134" width="1" height="1" fill="#000"/>
<rect x="210" y="128" width="4" height="5" fill="#fff"/>
<rect x="211" y="122" width="1" height="4" fill="#fff"/>
<rect x="209" y="134" width="1" height="1" fill="#000"/>
<rect x="215" y="128" width="4" height="5" fill="#fff"/>
<rect x="216" y="122" width="1" height="4" fill="#fff"/>
<rect x="214" y="134" width="1" height="1" fill="#000"/>
<rect x="221" y="128" width="4" height="5" fill="#fff"/>
<rect x="222" y="122" width="1" height="4" fill="#fff"/>
<rect x="220" y="134" width="1" height="1" fill="#000"/>
<rect x="227" y="128" width="4" height="5" fill="#fff"/>
<rect x="228" y="122" width="1" height="4" fill="#fff"/>
<rect x="226" y="134" width="1" height="1" fill="#000"/>
<rect x="233" y="128" width="4" height="5" fill="#fff"/>
<rect x="234" y="122" width="1" height="4" fill="#fff"/>
<rect x="232" y="134" width="1" height="1" fill="#000"/>
<rect x="239" y="128" width="4" height="5" fill="#fff"/>
<rect x="240" y="122" width="1" height="4" fill="#fff"/>
<rect x="238" y="134" width="1" height="1" fill="#000"/>
<rect x="245" y="128" width="4" height="5" fill="#fff"/>
<rect x="246" y="122" width="1" height="4" fill="#fff"/>
<rect x="244" y="134" width="1" height="1" fill="#000"/>
<rect x="77" y="128" width="1" height="5" fill="#fff"/>
<rect x="258" y="120" width="8" height="1" fill="#000"/>
<rect x="258" y="120" width="1" height="5" fill="#000"/>
<rect x="256" y="124" width="3" height="1" fill="#000"/>
<rect x="256" y="124" width="1" height="10" fill="#000"/>
<rect x="256" y="133" width="9" height="1" fill="#000"/>
<rect x="264" y="124" width="1" height="10" fill="#000"/>
<rect x="260" y="126" width="5" height="1" fill="#000"/>
<rect x="262" y="124" width="1" height="3" fill="#000"/>
<rect x="266" y="118" width="2" height="18" fill="#000"/>
<rect x="269" y="118" width="1" height="20" fill="#000"/>
<rect x="270" y="126" width="8" height="1" fill="#000"/>
<rect x="270" y="134" width="8" height="1" fill="#000"/>
<rect x="52" y="138" width="226" height="20" fill="#000"/>
<rect x="53" y="139" width="224" height="18" fill="#fff"/>
<rect x="58" y="138" width="1" height="20" fill="#000"/>
<rect x="52" y="146" width="6" height="1" fill="#000"/>
<rect x="52" y="153" width="6" height="1" fill="#000"/>
<rect x="60" y="138" width="4" height="18" fill="#000"/>
<rect x="63" y="140" width="7" height="1" fill="#000"/>
<rect x="63" y="140" width="1" height="14" fill="#000"/>
<rect x="63" y="153" width="9" height="1" fill="#000"/>
<rect x="71" y="144" width="1" height="10" fill="#000"/>
<rect x="69" y="140" width="1" height="5" fill="#000"/>
<rect x="69" y="144" width="3" height="1" fill="#000"/>
<rect x="65" y="144" width="1" height="3" fill="#000"/>
<rect x="65" y="146" width="5" height="1" fill="#000"/>
<rect x="77" y="141" width="174" height="6" fill="#000"/>
<rect x="76" y="147" width="176" height="7" fill="#000"/>
<rect x="80" y="148" width="4" height="5" fill="#fff"/>
<rect x="81" y="142" width="1" height="4" fill="#fff"/>
<rect x="79" y="154" width="1" height="1" fill="#000"/>
<rect x="86" y="148" width="4" height="5" fill="#fff"/>
<rect x="87" y="142" width="1" height="4" fill="#fff"/>
<rect x="85" y="154" width="1" height="1" fill="#000"/>
<rect x="92" y="148" width="4" height="5" fill="#fff"/>
<rect x="93" y="142" width="1" height="4" fill="#fff"/>
<rect x="91" y="154" width="1" height="1" fill="#000"/>
<rect x="98" y="148" width="4" height="5" fill="#fff"/>
<rect x="99" y="142" width="1" height="4" fill="#fff"/>
<rect x="97" y="154" width="1" height="1" fill="#000"/>
<rect x="104" y="148" width="4" height="5" fill="#fff"/>
<rect x="105" y="142" width="1" height="4" fill="#fff"/>
<rect x="103" y="154" width="1" height="1" fill="#000"/>
<rect x="109" y="148" width="4" height="5" fill="#fff"/>
<rect x="110" y="142" width="1" height="4" fill="#fff"/>
<rect x="108" y="154" width="1" height="1" fill="#000"/>
<rect x="115" y="148" width="4" height="5" fill="#fff"/>
<rect x="116" y="142" width="1" height="4" fill="#fff"/>
<rect x="114" y="154" width="1" height="1" fill="#000"/>
<rect x="121" y="148" width="4" height="5" fill="#fff"/>
<rect x="122" y="142" width="1" height="4" fill="#fff"/>
<rect x="120" y="154" width="1" height="1" fill="#000"/>
<rect x="127" y="148" width="4" height="5" fill="#fff"/>
<rect x="128" y="142" width="1" height="4" fill="#fff"/>
<rect x="126" y="154" width="1" height="1" fill="#000"/>
<rect x="133" y="148" width="4" height="5" fill="#fff"/>
<rect x="134" y="142" width="1" height="4" fill="#fff"/>
<rect x="132" y="154" width="1" height="1" fill="#000"/>
<rect x="139" y="148" width="4" height="5" fill="#fff"/>
<rect x="140" y="142" width="1" height="4" fill="#fff"/>
<rect x="138" y="154" width="1" height="1" fill="#000"/>
<rect x="145" y="148" width="4" height="5" fill="#fff"/>
<rect x="146" y="142" width="1" height="4" fill="#fff"/>
<rect x="144" y="154" width="1" height="1" fill="#000"/>
<rect x="151" y="148" width="4" height="5" fill="#fff"/>
<rect x="152" y="142" width="1" height="4" fill="#fff"/>
<rect x="150" y="154" width="1" height="1" fill="#000"/>
<rect x="157" y="148" width="4" height="5" fill="#fff"/>
<rect x="158" y="142" width="1" height="4" fill="#fff"/>
<rect x="156" y="154" width="1" height="1" fill="#000"/>
<rect x="162" y="148" width="4" height="5" fill="#fff"/>
<rect x="163" y="142" width="1" height="4" fill="#fff"/>
<rect x="161" y="154" width="1" height="1" fill="#000"/>
<rect x="168" y="148" width="4" height="5" fill="#fff"/>
<rect x="169" y="142" width="1" height="4" fill="#fff"/>
<rect x="167" y="154" width="1" height="1" fill="#000"/>
<rect x="174" y="148" width="4" height="5" fill="#fff"/>
<rect x="175" y="142" width="1" height="4" fill="#fff"/>
<rect x="173" y="154" width="1" height="1" fill="#000"/>
<rect x="180" y="148" width="4" height="5" fill="#fff"/>
<rect x="181" y="142" width="1" height="4" fill="#fff"/>
<rect x="179" y="154" width="1" height="1" fill="#000"/>
<rect x="186" y="148" width="4" height="5" fill="#fff"/>
<rect x="187" y="142" width="1" height="4" fill="#fff"/>
<rect x="185" y="154" width="1" height="1" fill="#000"/>
<rect x="192" y="148" width="4" height="5" fill="#fff"/>
<rect x="193" y="142" width="1" height="4" fill="#fff"/>
<rect x="191" y="154" width="1" height="1" fill="#000"/>
<rect x="198" y="148" width="4" height="5" fill="#fff"/>
<rect x="199" y="142" width="1" height="4" fill="#fff"/>
<rect x="197" y="154" width="1" height="1" fill="#000"/>
<rect x="204" y="148" width="4" height="5" fill="#fff"/>
<rect x="205" y="142" width="1" height="4" fill="#fff"/>
<rect x="203" y="154" width="1" height="1" fill="#000"/>
<rect x="210" y="148" width="4" height="5" fill="#fff"/>
<rect x="211" y="142" width="1" height="4" fill="#fff"/>
<rect x="209" y="154" width="1" height="1" fill="#000"/>
<rect x="215" y="148" width="4" height="5" fill="#fff"/>
<rect x="216" y="142" width="1" height="4" fill="#fff"/>
<rect x="214" y="154" width="1" height="1" fill="#000"/>
<rect x="221" y="148" width="4" height="5" fill="#fff"/>
<rect x="222" y="142" width="1" height="4" fill="#fff"/>
<rect x="220" y="154" width="1" height="1" fill="#000"/>
<rect x="227" y="148" width="4" height="5" fill="#fff"/>
<rect x="228" y="142" width="1" height="4" fill="#fff"/>
<rect x="226" y="154" width="1" height="1" fill="#000"/>
<rect x="233" y="148" width="4" height="5" fill="#fff"/>
<rect x="234" y="142" width="1" height="4" fill="#fff"/>
<rect x="232" y="154" width="1" height="1" fill="#000"/>
<rect x="239" y="148" width="4" height="5" fill="#fff"/>
<rect x="240" y="142" width="1" height="4" fill="#fff"/>
<rect x="238" y="154" width="1" height="1" fill="#000"/>
<rect x="245" y="148" width="4" height="5" fill="#fff"/>
<rect x="246" y="142" width="1" height="4" fill="#fff"/>
<rect x="244" y="154" width="1" height="1" fill="#000"/>
<rect x="77" y="148" width="1" height="5" fill="#fff"/>
<rect x="258" y="140" width="8" height="1" fill="#000"/>
<rect x="258" y="140" width="1" height="5" fill="#000"/>
<rect x="256" y="144" width="3" height="1" fill="#000"/>
<rect x="256" y="144" width="1" height="10" fill="#000"/>
<rect x="256" y="153" width="9" height="1" fill="#000"/>
<rect x="264" y="144" width="1" height="10" fill="#000"/>
<rect x="260" y="146" width="5" height="1" fill="#000"/>
<rect x="262" y="144" width="1" height="3" fill="#000"/>
<rect x="266" y="138" width="2" height="18" fill="#000"/>
<rect x="269" y="138" width="1" height="20" fill="#000"/>
<rect x="270" y="146" width="8" height="1" fill="#000"/>
<rect x="270" y="154" width="8" height="1" fill="#000"/>
<rect x="52" y="158" width="226" height="20" fill="#000"/>
<rect x="53" y="159" width="224" height="18" fill="#fff"/>
<rect x="58" y="158" width="1" height="20" fill="#000"/>
<rect x="52" y="166" width="6" height="1" fill="#000"/>
<rect x="52" y="173" width="6" height="1" fill="#000"/>
<rect x="60" y="158" width="4" height="18" fill="#000"/>
<rect x="63" y="160" width="7" height="1" fill="#000"/>
<rect x="63" y="160" width="1" height="14" fill="#000"/>
<rect x="63" y="173" width="9" height="1" fill="#000"/>
<rect x="71" y="164" width="1" height="10" fill="#000"/>
<rect x="69" y="160" width="1" height="5" fill="#000"/>
<rect x="69" y="164" width="3" height="1" fill="#000"/>
<rect x="65" y="164" width="1" height="3" fill="#000"/>
<rect x="65" y="166" width="5" height="1" fill="#000"/>
<rect x="77" y="161" width="174" height="6" fill="#000"/>
<rect x="76" y="167" width="176" height="7" fill="#000"/>
<rect x="80" y="168" width="4" height="5" fill="#fff"/>
<rect x="81" y="162" width="1" height="4" fill="#fff"/>
<rect x="79" y="174" width="1" height="1" fill="#000"/>
<rect x="86" y="168" width="4" height="5" fill="#fff"/>
<rect x="87" y="162" width="1" height="4" fill="#fff"/>
<rect x="85" y="174" width="1" height="1" fill="#000"/>
<rect x="92" y="168" width="4" height="5" fill="#fff"/>
<rect x="93" y="162" width="1" height="4" fill="#fff"/>
<rect x="91" y="174" width="1" height="1" fill="#000"/>
<rect x="98" y="168" width="4" height="5" fill="#fff"/>
<rect x="99" y="162" width="1" height="4" fill="#fff"/>
<rect x="97" y="174" width="1" height="1" fill="#000"/>
<rect x="104" y="168" width="4" height="5" fill="#fff"/>
<rect x="105" y="162" width="1" height="4" fill="#fff"/>
<rect x="103" y="174" width="1" height="1" fill="#000"/>
<rect x="109" y="168" width="4" height="5" fill="#fff"/>
<rect x="110" y="162" width="1" height="4" fill="#fff"/>
<rect x="108" y="174" width="1" height="1" fill="#000"/>
<rect x="115" y="168" width="4" height="5" fill="#fff"/>
<rect x="116" y="162" width="1" height="4" fill="#fff"/>
<rect x="114" y="174" width="1" height="1" fill="#000"/>
<rect x="121" y="168" width="4" height="5" fill="#fff"/>
<rect x="122" y="162" width="1" height="4" fill="#fff"/>
<rect x="120" y="174" width="1" height="1" fill="#000"/>
<rect x="127" y="168" width="4" height="5" fill="#fff"/>
<rect x="128" y="162" width="1" height="4" fill="#fff"/>
<rect x="126" y="174" width="1" height="1" fill="#000"/>
<rect x="133" y="168" width="4" height="5" fill="#fff"/>
<rect x="134" y="162" width="1" height="4" fill="#fff"/>
<rect x="132" y="174" width="1" height="1" fill="#000"/>
<rect x="139" y="168" width="4" height="5" fill="#fff"/>
<rect x="140" y="162" width="1" height="4" fill="#fff"/>
<rect x="138" y="174" width="1" height="1" fill="#000"/>
<rect x="145" y="168" width="4" height="5" fill="#fff"/>
<rect x="146" y="162" width="1" height="4" fill="#fff"/>
<rect x="144" y="174" width="1" height="1" fill="#000"/>
<rect x="151" y="168" width="4" height="5" fill="#fff"/>
<rect x="152" y="162" width="1" height="4" fill="#fff"/>
<rect x="150" y="174" width="1" height="1" fill="#000"/>
<rect x="157" y="168" width="4" height="5" fill="#fff"/>
<rect x="158" y="162" width="1" height="4" fill="#fff"/>
<rect x="156" y="174" width="1" height="1" fill="#000"/>
<rect x="162" y="168" width="4" height="5" fill="#fff"/>
<rect x="163" y="162" width="1" height="4" fill="#fff"/>
<rect x="161" y="174" width="1" height="1" fill="#000"/>
<rect x="168" y="168" width="4" height="5" fill="#fff"/>
<rect x="169" y="162" width="1" height="4" fill="#fff"/>
<rect x="167" y="174" width="1" height="1" fill="#000"/>
<rect x="174" y="168" width="4" height="5" fill="#fff"/>
<rect x="175" y="162" width="1" height="4" fill="#fff"/>
<rect x="173" y="174" width="1" height="1" fill="#000"/>
<rect x="180" y="168" width="4" height="5" fill="#fff"/>
<rect x="181" y="162" width="1" height="4" fill="#fff"/>
<rect x="179" y="174" width="1" height="1" fill="#000"/>
<rect x="186" y="168" width="4" height="5" fill="#fff"/>
<rect x="187" y="162" width="1" height="4" fill="#fff"/>
<rect x="185" y="174" width="1" height="1" fill="#000"/>
<rect x="192" y="168" width="4" height="5" fill="#fff"/>
<rect x="193" y="162" width="1" height="4" fill="#fff"/>
<rect x="191" y="174" width="1" height="1" fill="#000"/>
<rect x="198" y="168" width="4" height="5" fill="#fff"/>
<rect x="199" y="162" width="1" height="4" fill="#fff"/>
<rect x="197" y="174" width="1" height="1" fill="#000"/>
<rect x="204" y="168" width="4" height="5" fill="#fff"/>
<rect x="205" y="162" width="1" height="4" fill="#fff"/>
<rect x="203" y="174" width="1" height="1" fill="#000"/>
<rect x="210" y="168" width="4" height="5" fill="#fff"/>
<rect x="211" y="162" width="1" height="4" fill="#fff"/>
<rect x="209" y="174" width="1" height="1" fill="#000"/>
<rect x="215" y="168" width="4" height="5" fill="#fff"/>
<rect x="216" y="162" width="1" height="4" fill="#fff"/>
<rect x="214" y="174" width="1" height="1" fill="#000"/>
<rect x="221" y="168" width="4" height="5" fill="#fff"/>
<rect x="222" y="162" width="1" height="4" fill="#fff"/>
<rect x="220" y="174" width="1" height="1" fill="#000"/>
<rect x="227" y="168" width="4" height="5" fill="#fff"/>
<rect x="228" y="162" width="1" height="4" fill="#fff"/>
<rect x="226" y="174" width="1" height="1" fill="#000"/>
<rect x="233" y="168" width="4" height="5" fill="#fff"/>
<rect x="234" y="162" width="1" height="4" fill="#fff"/>
<rect x="232" y="174" width="1" height="1" fill="#000"/>
<rect x="239" y="168" width="4" height="5" fill="#fff"/>
<rect x="240" y="162" width="1" height="4" fill="#fff"/>
<rect x="238" y="174" width="1" height="1" fill="#000"/>
<rect x="245" y="168" width="4" height="5" fill="#fff"/>
<rect x="246" y="162" width="1" height="4" fill="#fff"/>
<rect x="244" y="174" width="1" height="1" fill="#000"/>
<rect x="77" y="168" width="1" height="5" fill="#fff"/>
<rect x="258" y="160" width="8" height="1" fill="#000"/>
<rect x="258" y="160" width="1" height="5" fill="#000"/>
<rect x="256" y="164" width="3" height="1" fill="#000"/>
<rect x="256" y="164" width="1" height="10" fill="#000"/>
<rect x="256" y="173" width="9" height="1" fill="#000"/>
<rect x="264" y="164" width="1" height="10" fill="#000"/>
<rect x="260" y="166" width="5" height="1" fill="#000"/>
<rect x="262" y="164" width="1" height="3" fill="#000"/>
<rect x="266" y="158" width="2" height="18" fill="#000"/>
<rect x="269" y="158" width="1" height="20" fill="#000"/>
<rect x="270" y="166" width="8" height="1" fill="#000"/>
<rect x="270" y="174" width="8" height="1" fill="#000"/>
<rect x="285" y="18" width="278" height="20" fill="#000"/>
<rect x="296" y="25" width="256" height="6" fill="#fff"/>
<rect x="435" y="63" width="128" height="20" fill="#000"/>
<rect x="443" y="70" width="113" height="6" fill="#fff"/>
<rect x="435" y="107" width="128" height="20" fill="#000"/>
<rect x="443" y="114" width="113" height="6" fill="#fff"/>
<rect x="435" y="151" width="128" height="19" fill="#000"/>
<rect x="443" y="158" width="113" height="5" fill="#fff"/>
<rect x="435" y="194" width="128" height="20" fill="#000"/>
<rect x="443" y="201" width="113" height="6" fill="#fff"/>
<rect x="435" y="239" width="128" height="19" fill="#000"/>
<rect x="443" y="246" width="113" height="5" fill="#fff"/>
<rect x="435" y="283" width="128" height="20" fill="#000"/>
<rect x="443" y="290" width="113" height="6" fill="#fff"/>
<rect x="435" y="328" width="128" height="19" fill="#000"/>
<rect x="443" y="335" width="113" height="5" fill="#fff"/>
<rect x="573" y="18" width="202" height="20" fill="#000"/>
<rect x="581" y="25" width="186" height="6" fill="#fff"/>
<rect x="573" y="63" width="202" height="20" fill="#000"/>
<rect x="581" y="70" width="186" height="6" fill="#fff"/>
<rect x="573" y="107" width="202" height="20" fill="#000"/>
<rect x="581" y="114" width="186" height="6" fill="#fff"/>
<rect x="573" y="151" width="202" height="19" fill="#000"/>
<rect x="581" y="158" width="186" height="5" fill="#fff"/>
<rect x="573" y="194" width="202" height="20" fill="#000"/>
<rect x="581" y="201" width="186" height="6" fill="#fff"/>
<rect x="573" y="239" width="202" height="19" fill="#000"/>
<rect x="581" y="246" width="186" height="5" fill="#fff"/>
<rect x="573" y="283" width="202" height="20" fill="#000"/>
<rect x="581" y="290" width="186" height="6" fill="#fff"/>
<rect x="573" y="328" width="202" height="19" fill="#000"/>
<rect x="581" y="335" width="186" height="5" fill="#fff"/>
<rect x="122" y="214" width="60" height="60" fill="#000"/>
<rect x="124" y="211" width="54" height="3" fill="#000"/>
<rect x="127" y="274" width="53" height="3" fill="#000"/>
<rect x="119" y="217" width="3" height="55" fill="#000"/>
<rect x="182" y="215" width="3" height="56" fill="#000"/>
<rect x="122" y="212" width="2" height="2" fill="#000"/>
<rect x="178" y="213" width="4" height="1" fill="#000"/>
<rect x="173" y="219" width="4" height="4" fill="#fff"/>
<rect x="130" y="211" width="1" height="3" fill="#fff"/>
<rect x="133" y="211" width="1" height="3" fill="#fff"/>
<rect x="136" y="211" width="1" height="3" fill="#fff"/>
<rect x="139" y="211" width="1" height="3" fill="#fff"/>
<rect x="147" y="211" width="1" height="3" fill="#fff"/>
<rect x="150" y="211" width="1" height="3" fill="#fff"/>
<rect x="153" y="211" width="1" height="3" fill="#fff"/>
<rect x="164" y="211" width="1" height="3" fill="#fff"/>
<rect x="167" y="211" width="1" height="3" fill="#fff"/>
<rect x="170" y="211" width="1" height="3" fill="#fff"/>
<rect x="173" y="211" width="1" height="3" fill="#fff"/>
<rect x="126" y="274" width="1" height="3" fill="#fff"/>
<rect x="129" y="274" width="1" height="3" fill="#fff"/>
<rect x="144" y="274" width="1" height="3" fill="#fff"/>
<rect x="147" y="274" width="1" height="3" fill="#fff"/>
<rect x="158" y="274" width="1" height="3" fill="#fff"/>
<rect x="161" y="274" width="1" height="3" fill="#fff"/>
<rect x="164" y="274" width="1" height="3" fill="#fff"/>
<rect x="178" y="274" width="1" height="3" fill="#fff"/>
<rect x="119" y="224" width="3" height="1" fill="#fff"/>
<rect x="119" y="227" width="3" height="1" fill="#fff"/>
<rect x="119" y="230" width="3" height="1" fill="#fff"/>
<rect x="119" y="241" width="3" height="1" fill="#fff"/>
<rect x="119" y="245" width="3" height="1" fill="#fff"/>
<rect x="119" y="248" width="3" height="1" fill="#fff"/>
<rect x="119" y="255" width="3" height="1" fill="#fff"/>
<rect x="119" y="258" width="3" height="1" fill="#fff"/>
<rect x="119" y="262" width="3" height="1" fill="#fff"/>
<rect x="119" y="265" width="3" height="1" fill="#fff"/>
<rect x="182" y="219" width="3" height="1" fill="#fff"/>
<rect x="182" y="223" width="3" height="1" fill="#fff"/>
<rect x="182" y="226" width="3" height="1" fill="#fff"/>
<rect x="182" y="237" width="3" height="1" fill="#fff"/>
<rect x="182" y="240" width="3" height="1" fill="#fff"/>
<rect x="182" y="243" width="3" height="1" fill="#fff"/>
<rect x="182" y="251" width="3" height="1" fill="#fff"/>
<rect x="182" y="254" width="3" height="1" fill="#fff"/>
<rect x="182" y="257" width="3" height="1" fill="#fff"/>
<rect x="182" y="260" width="3" height="1" fill="#fff"/>
<rect x="182" y="268" width="3" height="1" fill="#fff"/>
<rect x="289" y="225" width="60" height="60" fill="#000"/>
<rect x="291" y="222" width="54" height="3" fill="#000"/>
<rect x="294" y="285" width="53" height="3" fill="#000"/>
<rect x="286" y="228" width="3" height="55" fill="#000"/>
<rect x="349" y="226" width="3" height="56" fill="#000"/>
<rect x="289" y="223" width="2" height="2" fill="#000"/>
<rect x="345" y="224" width="4" height="1" fill="#000"/>
<circle cx="342.5" cy="231.5" r="2.2" fill="#fff" shape-rendering="geometricPrecision"/>
<rect x="292" y="222" width="1" height="3" fill="#fff"/>
<rect x="306" y="222" width="1" height="3" fill="#fff"/>
<rect x="309" y="222" width="1" height="3" fill="#fff"/>
<rect x="312" y="222" width="1" height="3" fill="#fff"/>
<rect x="323" y="222" width="1" height="3" fill="#fff"/>
<rect x="326" y="222" width="1" height="3" fill="#fff"/>
<rect x="329" y="222" width="1" height="3" fill="#fff"/>
<rect x="340" y="222" width="1" height="3" fill="#fff"/>
<rect x="343" y="222" width="1" height="3" fill="#fff"/>
<rect x="346" y="222" width="1" height="3" fill="#fff"/>
<rect x="297" y="285" width="1" height="3" fill="#fff"/>
<rect x="300" y="285" width="1" height="3" fill="#fff"/>
<rect x="303" y="285" width="1" height="3" fill="#fff"/>
<rect x="306" y="285" width="1" height="3" fill="#fff"/>
<rect x="317" y="285" width="1" height="3" fill="#fff"/>
<rect x="320" y="285" width="1" height="3" fill="#fff"/>
<rect x="323" y="285" width="1" height="3" fill="#fff"/>
<rect x="334" y="285" width="1" height="3" fill="#fff"/>
<rect x="337" y="285" width="1" height="3" fill="#fff"/>
<rect x="340" y="285" width="1" height="3" fill="#fff"/>
<rect x="343" y="285" width="1" height="3" fill="#fff"/>
<rect x="286" y="229" width="3" height="1" fill="#fff"/>
<rect x="286" y="240" width="3" height="1" fill="#fff"/>
<rect x="286" y="243" width="3" height="1" fill="#fff"/>
<rect x="286" y="247" width="3" height="1" fill="#fff"/>
<rect x="286" y="258" width="3" height="1" fill="#fff"/>
<rect x="286" y="261" width="3" height="1" fill="#fff"/>
<rect x="286" y="272" width="3" height="1" fill="#fff"/>
<rect x="286" y="275" width="3" height="1" fill="#fff"/>
<rect x="286" y="278" width="3" height="1" fill="#fff"/>
<rect x="349" y="233" width="3" height="1" fill="#fff"/>
<rect x="349" y="236" width="3" height="1" fill="#fff"/>
<rect x="349" y="239" width="3" height="1" fill="#fff"/>
<rect x="349" y="242" width="3" height="1" fill="#fff"/>
<rect x="349" y="253" width="3" height="1" fill="#fff"/>
<rect x="349" y="256" width="3" height="1" fill="#fff"/>
<rect x="349" y="267" width="3" height="1" fill="#fff"/>
<rect x="349" y="270" width="3" height="1" fill="#fff"/>
<rect x="349" y="273" width="3" height="1" fill="#fff"/>
<rect x="13" y="262" width="84" height="25" fill="#000"/>
<rect x="15" y="264" width="4" height="5" fill="#fff"/>
<rect x="15" y="280" width="4" height="5" fill="#fff"/>
<rect x="21" y="264" width="3" height="5" fill="#fff"/>
<rect x="21" y="280" width="3" height="5" fill="#fff"/>
<rect x="27" y="264" width="3" height="5" fill="#fff"/>
<rect x="27" y="280" width="3" height="5" fill="#fff"/>
<rect x="33" y="264" width="3" height="5" fill="#fff"/>
<rect x="33" y="280" width="3" height="5" fill="#fff"/>
<rect x="39" y="264" width="3" height="5" fill="#fff"/>
<rect x="39" y="280" width="3" height="5" fill="#fff"/>
<rect x="44" y="264" width="3" height="5" fill="#fff"/>
<rect x="44" y="280" width="3" height="5" fill="#fff"/>
<rect x="50" y="264" width="3" height="5" fill="#fff"/>
<rect x="50" y="280" width="3" height="5" fill="#fff"/>
<rect x="56" y="264" width="3" height="5" fill="#fff"/>
<rect x="56" y="280" width="3" height="5" fill="#fff"/>
<rect x="62" y="264" width="3" height="5" fill="#fff"/>
<rect x="62" y="280" width="3" height="5" fill="#fff"/>
<rect x="68" y="264" width="3" height="5" fill="#fff"/>
<rect x="68" y="280" width="3" height="5" fill="#fff"/>
<rect x="74" y="264" width="3" height="5" fill="#fff"/>
<rect x="74" y="280" width="3" height="5" fill="#fff"/>
<rect x="80" y="264" width="3" height="5" fill="#fff"/>
<rect x="80" y="280" width="3" height="5" fill="#fff"/>
<rect x="86" y="264" width="3" height="5" fill="#fff"/>
<rect x="86" y="280" width="3" height="5" fill="#fff"/>
<rect x="91" y="264" width="4" height="5" fill="#fff"/>
<rect x="91" y="280" width="4" height="5" fill="#fff"/>
<rect x="18" y="272" width="33" height="5" fill="#fff"/>
<rect x="56" y="272" width="34" height="5" fill="#fff"/>
<rect x="95" y="272" width="2" height="4" fill="#fff"/>
<rect x="13" y="291" width="84" height="25" fill="#000"/>
<rect x="15" y="293" width="4" height="5" fill="#fff"/>
<rect x="15" y="309" width="4" height="5" fill="#fff"/>
<rect x="21" y="293" width="3" height="5" fill="#fff"/>
<rect x="21" y="309" width="3" height="5" fill="#fff"/>
<rect x="27" y="293" width="3" height="5" fill="#fff"/>
<rect x="27" y="309" width="3" height="5" fill="#fff"/>
<rect x="33" y="293" width="3" height="5" fill="#fff"/>
<rect x="33" y="309" width="3" height="5" fill="#fff"/>
<rect x="39" y="293" width="3" height="5" fill="#fff"/>
<rect x="39" y="309" width="3" height="5" fill="#fff"/>
<rect x="44" y="293" width="3" height="5" fill="#fff"/>
<rect x="44" y="309" width="3" height="5" fill="#fff"/>
<rect x="50" y="293" width="3" height="5" fill="#fff"/>
<rect x="50" y="309" width="3" height="5" fill="#fff"/>
<rect x="56" y="293" width="3" height="5" fill="#fff"/>
<rect x="56" y="309" width="3" height="5" fill="#fff"/>
<rect x="62" y="293" width="3" height="5" fill="#fff"/>
<rect x="62" y="309" width="3" height="5" fill="#fff"/>
<rect x="68" y="293" width="3" height="5" fill="#fff"/>
<rect x="68" y="309" width="3" height="5" fill="#fff"/>
<rect x="74" y="293" width="3" height="5" fill="#fff"/>
<rect x="74" y="309" width="3" height="5" fill="#fff"/>
<rect x="80" y="293" width="3" height="5" fill="#fff"/>
<rect x="80" y="309" width="3" height="5" fill="#fff"/>
<rect x="86" y="293" width="3" height="5" fill="#fff"/>
<rect x="86" y="309" width="3" height="5" fill="#fff"/>
<rect x="91" y="293" width="4" height="5" fill="#fff"/>
<rect x="91" y="309" width="4" height="5" fill="#fff"/>
<rect x="18" y="301" width="33" height="5" fill="#fff"/>
<rect x="56" y="301" width="34" height="5" fill="#fff"/>
<rect x="95" y="301" width="2" height="4" fill="#fff"/>
<rect x="13" y="346" width="84" height="24" fill="#000"/>
<rect x="15" y="348" width="4" height="5" fill="#fff"/>
<rect x="15" y="363" width="4" height="5" fill="#fff"/>
<rect x="21" y="348" width="3" height="5" fill="#fff"/>
<rect x="21" y="363" width="3" height="5" fill="#fff"/>
<rect x="27" y="348" width="3" height="5" fill="#fff"/>
<rect x="27" y="363" width="3" height="5" fill="#fff"/>
<rect x="33" y="348" width="3" height="5" fill="#fff"/>
<rect x="33" y="363" width="3" height="5" fill="#fff"/>
<rect x="39" y="348" width="3" height="5" fill="#fff"/>
<rect x="39" y="363" width="3" height="5" fill="#fff"/>
<rect x="44" y="348" width="3" height="5" fill="#fff"/>
<rect x="44" y="363" width="3" height="5" fill="#fff"/>
<rect x="50" y="348" width="3" height="5" fill="#fff"/>
<rect x="50" y="363" width="3" height="5" fill="#fff"/>
<rect x="56" y="348" width="3" height="5" fill="#fff"/>
<rect x="56" y="363" width="3" height="5" fill="#fff"/>
<rect x="62" y="348" width="3" height="5" fill="#fff"/>
<rect x="62" y="363" width="3" height="5" fill="#fff"/>
<rect x="68" y="348" width="3" height="5" fill="#fff"/>
<rect x="68" y="363" width="3" height="5" fill="#fff"/>
<rect x="74" y="348" width="3" height="5" fill="#fff"/>
<rect x="74" y="363" width="3" height="5" fill="#fff"/>
<rect x="80" y="348" width="3" height="5" fill="#fff"/>
<rect x="80" y="363" width="3" height="5" fill="#fff"/>
<rect x="86" y="348" width="3" height="5" fill="#fff"/>
<rect x="86" y="363" width="3" height="5" fill="#fff"/>
<rect x="91" y="348" width="4" height="5" fill="#fff"/>
<rect x="91" y="363" width="4" height="5" fill="#fff"/>
<rect x="18" y="355" width="33" height="6" fill="#fff"/>
<rect x="56" y="355" width="34" height="6" fill="#fff"/>
<rect x="95" y="355" width="2" height="5" fill="#fff"/>
<rect x="13" y="372" width="84" height="25" fill="#000"/>
<rect x="15" y="374" width="4" height="5" fill="#fff"/>
<rect x="15" y="390" width="4" height="5" fill="#fff"/>
<rect x="21" y="374" width="3" height="5" fill="#fff"/>
<rect x="21" y="390" width="3" height="5" fill="#fff"/>
<rect x="27" y="374" width="3" height="5" fill="#fff"/>
<rect x="27" y="390" width="3" height="5" fill="#fff"/>
<rect x="33" y="374" width="3" height="5" fill="#fff"/>
<rect x="33" y="390" width="3" height="5" fill="#fff"/>
<rect x="39" y="374" width="3" height="5" fill="#fff"/>
<rect x="39" y="390" width="3" height="5" fill="#fff"/>
<rect x="44" y="374" width="3" height="5" fill="#fff"/>
<rect x="44" y="390" width="3" height="5" fill="#fff"/>
<rect x="50" y="374" width="3" height="5" fill="#fff"/>
<rect x="50" y="390" width="3" height="5" fill="#fff"/>
<rect x="56" y="374" width="3" height="5" fill="#fff"/>
<rect x="56" y="390" width="3" height="5" fill="#fff"/>
<rect x="62" y="374" width="3" height="5" fill="#fff"/>
<rect x="62" y="390" width="3" height="5" fill="#fff"/>
<rect x="68" y="374" width="3" height="5" fill="#fff"/>
<rect x="68" y="390" width="3" height="5" fill="#fff"/>
<rect x="74" y="374" width="3" height="5" fill="#fff"/>
<rect x="74" y="390" width="3" height="5" fill="#fff"/>
<rect x="80" y="374" width="3" height="5" fill="#fff"/>
<rect x="80" y="390" width="3" height="5" fill="#fff"/>
<rect x="86" y="374" width="3" height="5" fill="#fff"/>
<rect x="86" y="390" width="3" height="5" fill="#fff"/>
<rect x="91" y="374" width="4" height="5" fill="#fff"/>
<rect x="91" y="390" width="4" height="5" fill="#fff"/>
<rect x="18" y="382" width="33" height="5" fill="#fff"/>
<rect x="56" y="382" width="34" height="5" fill="#fff"/>
<rect x="95" y="382" width="2" height="4" fill="#fff"/>
<rect x="13" y="398" width="84" height="25" fill="#000"/>
<rect x="15" y="400" width="4" height="5" fill="#fff"/>
<rect x="15" y="416" width="4" height="5" fill="#fff"/>
<rect x="21" y="400" width="3" height="5" fill="#fff"/>
<rect x="21" y="416" width="3" height="5" fill="#fff"/>
<rect x="27" y="400" width="3" height="5" fill="#fff"/>
<rect x="27" y="416" width="3" height="5" fill="#fff"/>
<rect x="33" y="400" width="3" height="5" fill="#fff"/>
<rect x="33" y="416" width="3" height="5" fill="#fff"/>
<rect x="39" y="400" width="3" height="5" fill="#fff"/>
<rect x="39" y="416" width="3" height="5" fill="#fff"/>
<rect x="44" y="400" width="3" height="5" fill="#fff"/>
<rect x="44" y="416" width="3" height="5" fill="#fff"/>
<rect x="50" y="400" width="3" height="5" fill="#fff"/>
<rect x="50" y="416" width="3" height="5" fill="#fff"/>
<rect x="56" y="400" width="3" height="5" fill="#fff"/>
<rect x="56" y="416" width="3" height="5" fill="#fff"/>
<rect x="62" y="400" width="3" height="5" fill="#fff"/>
<rect x="62" y="416" width="3" height="5" fill="#fff"/>
<rect x="68" y="400" width="3" height="5" fill="#fff"/>
<rect x="68" y="416" width="3" height="5" fill="#fff"/>
<rect x="74" y="400" width="3" height="5" fill="#fff"/>
<rect x="74" y="416" width="3" height="5" fill="#fff"/>
<rect x="80" y="400" width="3" height="5" fill="#fff"/>
<rect x="80" y="416" width="3" height="5" fill="#fff"/>
<rect x="86" y="400" width="3" height="5" fill="#fff"/>
<rect x="86" y="416" width="3" height="5" fill="#fff"/>
<rect x="91" y="400" width="4" height="5" fill="#fff"/>
<rect x="91" y="416" width="4" height="5" fill="#fff"/>
<rect x="18" y="408" width="33" height="5" fill="#fff"/>
<rect x="56" y="408" width="34" height="5" fill="#fff"/>
<rect x="95" y="408" width="2" height="4" fill="#fff"/>
<rect x="13" y="424" width="84" height="25" fill="#000"/>
<rect x="15" y="426" width="4" height="5" fill="#fff"/>
<rect x="15" y="442" width="4" height="5" fill="#fff"/>
<rect x="21" y="426" width="3" height="5" fill="#fff"/>
<rect x="21" y="442" width="3" height="5" fill="#fff"/>
<rect x="27" y="426" width="3" height="5" fill="#fff"/>
<rect x="27" y="442" width="3" height="5" fill="#fff"/>
<rect x="33" y="426" width="3" height="5" fill="#fff"/>
<rect x="33" y="442" width="3" height="5" fill="#fff"/>
<rect x="39" y="426" width="3" height="5" fill="#fff"/>
<rect x="39" y="442" width="3" height="5" fill="#fff"/>
<rect x="44" y="426" width="3" height="5" fill="#fff"/>
<rect x="44" y="442" width="3" height="5" fill="#fff"/>
<rect x="50" y="426" width="3" height="5" fill="#fff"/>
<rect x="50" y="442" width="3" height="5" fill="#fff"/>
<rect x="56" y="426" width="3" height="5" fill="#fff"/>
<rect x="56" y="442" width="3" height="5" fill="#fff"/>
<rect x="62" y="426" width="3" height="5" fill="#fff"/>
<rect x="62" y="442" width="3" height="5" fill="#fff"/>
<rect x="68" y="426" width="3" height="5" fill="#fff"/>
<rect x="68" y="442" width="3" height="5" fill="#fff"/>
<rect x="74" y="426" width="3" height="5" fill="#fff"/>
<rect x="74" y="442" width="3" height="5" fill="#fff"/>
<rect x="80" y="426" width="3" height="5" fill="#fff"/>
<rect x="80" y="442" width="3" height="5" fill="#fff"/>
<rect x="86" y="426" width="3" height="5" fill="#fff"/>
<rect x="86" y="442" width="3" height="5" fill="#fff"/>
<rect x="91" y="426" width="4" height="5" fill="#fff"/>
<rect x="91" y="442" width="4" height="5" fill="#fff"/>
<rect x="18" y="434" width="33" height="5" fill="#fff"/>
<rect x="56" y="434" width="34" height="5" fill="#fff"/>
<rect x="95" y="434" width="2" height="4" fill="#fff"/>
<rect x="13" y="450" width="84" height="25" fill="#000"/>
<rect x="15" y="452" width="4" height="5" fill="#fff"/>
<rect x="15" y="468" width="4" height="5" fill="#fff"/>
<rect x="21" y="452" width="3" height="5" fill="#fff"/>
<rect x="21" y="468" width="3" height="5" fill="#fff"/>
<rect x="27" y="452" width="3" height="5" fill="#fff"/>
<rect x="27" y="468" width="3" height="5" fill="#fff"/>
<rect x="33" y="452" width="3" height="5" fill="#fff"/>
<rect x="33" y="468" width="3" height="5" fill="#fff"/>
<rect x="39" y="452" width="3" height="5" fill="#fff"/>
<rect x="39" y="468" width="3" height="5" fill="#fff"/>
<rect x="44" y="452" width="3" height="5" fill="#fff"/>
<rect x="44" y="468" width="3" height="5" fill="#fff"/>
<rect x="50" y="452" width="3" height="5" fill="#fff"/>
<rect x="50" y="468" width="3" height="5" fill="#fff"/>
<rect x="56" y="452" width="3" height="5" fill="#fff"/>
<rect x="56" y="468" width="3" height="5" fill="#fff"/>
<rect x="62" y="452" width="3" height="5" fill="#fff"/>
<rect x="62" y="468" width="3" height="5" fill="#fff"/>
<rect x="68" y="452" width="3" height="5" fill="#fff"/>
<rect x="68" y="468" width="3" height="5" fill="#fff"/>
<rect x="74" y="452" width="3" height="5" fill="#fff"/>
<rect x="74" y="468" width="3" height="5" fill="#fff"/>
<rect x="80" y="452" width="3" height="5" fill="#fff"/>
<rect x="80" y="468" width="3" height="5" fill="#fff"/>
<rect x="86" y="452" width="3" height="5" fill="#fff"/>
<rect x="86" y="468" width="3" height="5" fill="#fff"/>
<rect x="91" y="452" width="4" height="5" fill="#fff"/>
<rect x="91" y="468" width="4" height="5" fill="#fff"/>
<rect x="18" y="460" width="33" height="5" fill="#fff"/>
<rect x="56" y="460" width="34" height="5" fill="#fff"/>
<rect x="95" y="460" width="2" height="4" fill="#fff"/>
<rect x="13" y="476" width="84" height="25" fill="#000"/>
<rect x="15" y="478" width="4" height="5" fill="#fff"/>
<rect x="15" y="494" width="4" height="5" fill="#fff"/>
<rect x="21" y="478" width="3" height="5" fill="#fff"/>
<rect x="21" y="494" width="3" height="5" fill="#fff"/>
<rect x="27" y="478" width="3" height="5" fill="#fff"/>
<rect x="27" y="494" width="3" height="5" fill="#fff"/>
<rect x="33" y="478" width="3" height="5" fill="#fff"/>
<rect x="33" y="494" width="3" height="5" fill="#fff"/>
<rect x="39" y="478" width="3" height="5" fill="#fff"/>
<rect x="39" y="494" width="3" height="5" fill="#fff"/>
<rect x="44" y="478" width="3" height="5" fill="#fff"/>
<rect x="44" y="494" width="3" height="5" fill="#fff"/>
<rect x="50" y="478" width="3" height="5" fill="#fff"/>
<rect x="50" y="494" width="3" height="5" fill="#fff"/>
<rect x="56" y="478" width="3" height="5" fill="#fff"/>
<rect x="56" y="494" width="3" height="5" fill="#fff"/>
<rect x="62" y="478" width="3" height="5" fill="#fff"/>
<rect x="62" y="494" width="3" height="5" fill="#fff"/>
<rect x="68" y="478" width="3" height="5" fill="#fff"/>
<rect x="68" y="494" width="3" height="5" fill="#fff"/>
<rect x="74" y="478" width="3" height="5" fill="#fff"/>
<rect x="74" y="494" width="3" height="5" fill="#fff"/>
<rect x="80" y="478" width="3" height="5" fill="#fff"/>
<rect x="80" y="494" width="3" height="5" fill="#fff"/>
<rect x="86" y="478" width="3" height="5" fill="#fff"/>
<rect x="86" y="494" width="3" height="5" fill="#fff"/>
<rect x="91" y="478" width="4" height="5" fill="#fff"/>
<rect x="91" y="494" width="4" height="5" fill="#fff"/>
<rect x="18" y="486" width="33" height="5" fill="#fff"/>
<rect x="56" y="486" width="34" height="5" fill="#fff"/>
<rect x="95" y="486" width="2" height="4" fill="#fff"/>
<polygon points="122,366 220,366 229,375 229,472 122,472" fill="#000"/>
<path d="M217.7,371.5 L221,375 A4.3,4.3 0 1 1 214.4,375 Z" fill="#fff" shape-rendering="geometricPrecision"/>
<rect x="161" y="412" width="29" height="14" fill="#fff"/>
<rect x="181" y="282" width="28" height="49" fill="#000"/>
<rect x="182" y="283" width="26" height="47" fill="#fff"/>
<rect x="182.5" y="283.5" width="25" height="46" rx="3" fill="none" stroke="#000" stroke-width="1" shape-rendering="geometricPrecision"/>
<rect x="210" y="333" width="84" height="24" fill="#000"/>
<rect x="212" y="335" width="4" height="5" fill="#fff"/>
<rect x="212" y="350" width="4" height="5" fill="#fff"/>
<rect x="219" y="335" width="3" height="5" fill="#fff"/>
<rect x="219" y="350" width="3" height="5" fill="#fff"/>
<rect x="225" y="335" width="3" height="5" fill="#fff"/>
<rect x="225" y="350" width="3" height="5" fill="#fff"/>
<rect x="231" y="335" width="3" height="5" fill="#fff"/>
<rect x="231" y="350" width="3" height="5" fill="#fff"/>
<rect x="237" y="335" width="3" height="5" fill="#fff"/>
<rect x="237" y="350" width="3" height="5" fill="#fff"/>
<rect x="243" y="335" width="3" height="5" fill="#fff"/>
<rect x="243" y="350" width="3" height="5" fill="#fff"/>
<rect x="249" y="335" width="3" height="5" fill="#fff"/>
<rect x="249" y="350" width="3" height="5" fill="#fff"/>
<rect x="255" y="335" width="3" height="5" fill="#fff"/>
<rect x="255" y="350" width="3" height="5" fill="#fff"/>
<rect x="261" y="335" width="3" height="5" fill="#fff"/>
<rect x="261" y="350" width="3" height="5" fill="#fff"/>
<rect x="267" y="335" width="3" height="5" fill="#fff"/>
<rect x="267" y="350" width="3" height="5" fill="#fff"/>
<rect x="273" y="335" width="3" height="5" fill="#fff"/>
<rect x="273" y="350" width="3" height="5" fill="#fff"/>
<rect x="279" y="335" width="3" height="5" fill="#fff"/>
<rect x="279" y="350" width="3" height="5" fill="#fff"/>
<rect x="285" y="335" width="3" height="5" fill="#fff"/>
<rect x="285" y="350" width="3" height="5" fill="#fff"/>
<rect x="291" y="335" width="3" height="5" fill="#fff"/>
<rect x="291" y="350" width="3" height="5" fill="#fff"/>
<rect x="215" y="342" width="73" height="6" fill="#fff"/>
<rect x="292" y="342" width="2" height="6" fill="#fff"/>
<rect x="239" y="407" width="65" height="24" fill="#000"/>
<rect x="241" y="409" width="4" height="5" fill="#fff"/>
<rect x="241" y="424" width="4" height="5" fill="#fff"/>
<rect x="248" y="409" width="3" height="5" fill="#fff"/>
<rect x="248" y="424" width="3" height="5" fill="#fff"/>
<rect x="254" y="409" width="3" height="5" fill="#fff"/>
<rect x="254" y="424" width="3" height="5" fill="#fff"/>
<rect x="259" y="409" width="3" height="5" fill="#fff"/>
<rect x="259" y="424" width="3" height="5" fill="#fff"/>
<rect x="265" y="409" width="3" height="5" fill="#fff"/>
<rect x="265" y="424" width="3" height="5" fill="#fff"/>
<rect x="271" y="409" width="3" height="5" fill="#fff"/>
<rect x="271" y="424" width="3" height="5" fill="#fff"/>
<rect x="277" y="409" width="3" height="5" fill="#fff"/>
<rect x="277" y="424" width="3" height="5" fill="#fff"/>
<rect x="283" y="409" width="3" height="5" fill="#fff"/>
<rect x="283" y="424" width="3" height="5" fill="#fff"/>
<rect x="288" y="409" width="3" height="5" fill="#fff"/>
<rect x="288" y="424" width="3" height="5" fill="#fff"/>
<rect x="294" y="409" width="3" height="5" fill="#fff"/>
<rect x="294" y="424" width="3" height="5" fill="#fff"/>
<rect x="300" y="409" width="3" height="5" fill="#fff"/>
<rect x="300" y="424" width="3" height="5" fill="#fff"/>
<rect x="244" y="416" width="54" height="6" fill="#fff"/>
<rect x="302" y="416" width="2" height="6" fill="#fff"/>
<rect x="239" y="433" width="65" height="24" fill="#000"/>
<rect x="241" y="435" width="4" height="5" fill="#fff"/>
<rect x="241" y="450" width="4" height="5" fill="#fff"/>
<rect x="248" y="435" width="3" height="5" fill="#fff"/>
<rect x="248" y="450" width="3" height="5" fill="#fff"/>
<rect x="254" y="435" width="3" height="5" fill="#fff"/>
<rect x="254" y="450" width="3" height="5" fill="#fff"/>
<rect x="259" y="435" width="3" height="5" fill="#fff"/>
<rect x="259" y="450" width="3" height="5" fill="#fff"/>
<rect x="265" y="435" width="3" height="5" fill="#fff"/>
<rect x="265" y="450" width="3" height="5" fill="#fff"/>
<rect x="271" y="435" width="3" height="5" fill="#fff"/>
<rect x="271" y="450" width="3" height="5" fill="#fff"/>
<rect x="277" y="435" width="3" height="5" fill="#fff"/>
<rect x="277" y="450" width="3" height="5" fill="#fff"/>
<rect x="283" y="435" width="3" height="5" fill="#fff"/>
<rect x="283" y="450" width="3" height="5" fill="#fff"/>
<rect x="288" y="435" width="3" height="5" fill="#fff"/>
<rect x="288" y="450" width="3" height="5" fill="#fff"/>
<rect x="294" y="435" width="3" height="5" fill="#fff"/>
<rect x="294" y="450" width="3" height="5" fill="#fff"/>
<rect x="300" y="435" width="3" height="5" fill="#fff"/>
<rect x="300" y="450" width="3" height="5" fill="#fff"/>
<rect x="244" y="442" width="54" height="6" fill="#fff"/>
<rect x="302" y="442" width="2" height="6" fill="#fff"/>
<rect x="314" y="378" width="94" height="90" fill="#000"/>
<rect x="338" y="400" width="47" height="46" fill="#fff"/>
<rect x="318" y="382" width="3" height="2" fill="#fff"/>
<rect x="324" y="382" width="3" height="2" fill="#fff"/>
<rect x="330" y="382" width="3" height="2" fill="#fff"/>
<rect x="336" y="382" width="3" height="2" fill="#fff"/>
<rect x="342" y="382" width="3" height="2" fill="#fff"/>
<rect x="347" y="382" width="3" height="2" fill="#fff"/>
<rect x="353" y="382" width="3" height="2" fill="#fff"/>
<rect x="359" y="382" width="3" height="2" fill="#fff"/>
<rect x="365" y="382" width="3" height="2" fill="#fff"/>
<rect x="371" y="382" width="3" height="2" fill="#fff"/>
<rect x="377" y="382" width="3" height="2" fill="#fff"/>
<rect x="383" y="382" width="3" height="2" fill="#fff"/>
<rect x="388" y="382" width="3" height="2" fill="#fff"/>
<rect x="394" y="382" width="3" height="2" fill="#fff"/>
<rect x="400" y="382" width="3" height="2" fill="#fff"/>
<rect x="318" y="387" width="3" height="2" fill="#fff"/>
<rect x="324" y="387" width="3" height="2" fill="#fff"/>
<rect x="330" y="387" width="3" height="2" fill="#fff"/>
<rect x="336" y="387" width="3" height="2" fill="#fff"/>
<rect x="342" y="387" width="3" height="2" fill="#fff"/>
<rect x="347" y="387" width="3" height="2" fill="#fff"/>
<rect x="353" y="387" width="3" height="2" fill="#fff"/>
<rect x="359" y="387" width="3" height="2" fill="#fff"/>
<rect x="365" y="387" width="3" height="2" fill="#fff"/>
<rect x="371" y="387" width="3" height="2" fill="#fff"/>
<rect x="377" y="387" width="3" height="2" fill="#fff"/>
<rect x="383" y="387" width="3" height="2" fill="#fff"/>
<rect x="388" y="387" width="3" height="2" fill="#fff"/>
<rect x="394" y="387" width="3" height="2" fill="#fff"/>
<rect x="400" y="387" width="3" height="2" fill="#fff"/>
<rect x="318" y="393" width="3" height="2" fill="#fff"/>
<rect x="324" y="393" width="3" height="2" fill="#fff"/>
<rect x="330" y="393" width="3" height="2" fill="#fff"/>
<rect x="336" y="393" width="3" height="2" fill="#fff"/>
<rect x="342" y="393" width="3" height="2" fill="#fff"/>
<rect x="347" y="393" width="3" height="2" fill="#fff"/>
<rect x="353" y="393" width="3" height="2" fill="#fff"/>
<rect x="359" y="393" width="3" height="2" fill="#fff"/>
<rect x="365" y="393" width="3" height="2" fill="#fff"/>
<rect x="371" y="393" width="3" height="2" fill="#fff"/>
<rect x="377" y="393" width="3" height="2" fill="#fff"/>
<rect x="383" y="393" width="3" height="2" fill="#fff"/>
<rect x="388" y="393" width="3" height="2" fill="#fff"/>
<rect x="394" y="393" width="3" height="2" fill="#fff"/>
<rect x="400" y="393" width="3" height="2" fill="#fff"/>
<rect x="318" y="399" width="3" height="2" fill="#fff"/>
<rect x="324" y="399" width="3" height="2" fill="#fff"/>
<rect x="330" y="399" width="3" height="2" fill="#fff"/>
<rect x="388" y="399" width="3" height="2" fill="#fff"/>
<rect x="394" y="399" width="3" height="2" fill="#fff"/>
<rect x="400" y="399" width="3" height="2" fill="#fff"/>
<rect x="318" y="405" width="3" height="2" fill="#fff"/>
<rect x="324" y="405" width="3" height="2" fill="#fff"/>
<rect x="330" y="405" width="3" height="2" fill="#fff"/>
<rect x="388" y="405" width="3" height="2" fill="#fff"/>
<rect x="394" y="405" width="3" height="2" fill="#fff"/>
<rect x="400" y="405" width="3" height="2" fill="#fff"/>
<rect x="318" y="411" width="3" height="2" fill="#fff"/>
<rect x="324" y="411" width="3" height="2" fill="#fff"/>
<rect x="330" y="411" width="3" height="2" fill="#fff"/>
<rect x="388" y="411" width="3" height="2" fill="#fff"/>
<rect x="394" y="411" width="3" height="2" fill="#fff"/>
<rect x="400" y="411" width="3" height="2" fill="#fff"/>
<rect x="318" y="417" width="3" height="2" fill="#fff"/>
<rect x="324" y="417" width="3" height="2" fill="#fff"/>
<rect x="330" y="417" width="3" height="2" fill="#fff"/>
<rect x="388" y="417" width="3" height="2" fill="#fff"/>
<rect x="394" y="417" width="3" height="2" fill="#fff"/>
<rect x="400" y="417" width="3" height="2" fill="#fff"/>
<rect x="318" y="422" width="3" height="2" fill="#fff"/>
<rect x="324" y="422" width="3" height="2" fill="#fff"/>
<rect x="330" y="422" width="3" height="2" fill="#fff"/>
<rect x="388" y="422" width="3" height="2" fill="#fff"/>
<rect x="394" y="422" width="3" height="2" fill="#fff"/>
<rect x="400" y="422" width="3" height="2" fill="#fff"/>
<rect x="318" y="428" width="3" height="2" fill="#fff"/>
<rect x="324" y="428" width="3" height="2" fill="#fff"/>
<rect x="330" y="428" width="3" height="2" fill="#fff"/>
<rect x="388" y="428" width="3" height="2" fill="#fff"/>
<rect x="394" y="428" width="3" height="2" fill="#fff"/>
<rect x="400" y="428" width="3" height="2" fill="#fff"/>
<rect x="318" y="434" width="3" height="2" fill="#fff"/>
<rect x="324" y="434" width="3" height="2" fill="#fff"/>
<rect x="330" y="434" width="3" height="2" fill="#fff"/>
<rect x="388" y="434" width="3" height="2" fill="#fff"/>
<rect x="394" y="434" width="3" height="2" fill="#fff"/>
<rect x="400" y="434" width="3" height="2" fill="#fff"/>
<rect x="318" y="440" width="3" height="2" fill="#fff"/>
<rect x="324" y="440" width="3" height="2" fill="#fff"/>
<rect x="330" y="440" width="3" height="2" fill="#fff"/>
<rect x="388" y="440" width="3" height="2" fill="#fff"/>
<rect x="394" y="440" width="3" height="2" fill="#fff"/>
<rect x="400" y="440" width="3" height="2" fill="#fff"/>
<rect x="318" y="446" width="3" height="2" fill="#fff"/>
<rect x="324" y="446" width="3" height="2" fill="#fff"/>
<rect x="330" y="446" width="3" height="2" fill="#fff"/>
<rect x="388" y="446" width="3" height="2" fill="#fff"/>
<rect x="394" y="446" width="3" height="2" fill="#fff"/>
<rect x="400" y="446" width="3" height="2" fill="#fff"/>
<rect x="318" y="452" width="3" height="2" fill="#fff"/>
<rect x="324" y="452" width="3" height="2" fill="#fff"/>
<rect x="330" y="452" width="3" height="2" fill="#fff"/>
<rect x="336" y="452" width="3" height="2" fill="#fff"/>
<rect x="342" y="452" width="3" height="2" fill="#fff"/>
<rect x="347" y="452" width="3" height="2" fill="#fff"/>
<rect x="353" y="452" width="3" height="2" fill="#fff"/>
<rect x="359" y="452" width="3" height="2" fill="#fff"/>
<rect x="365" y="452" width="3" height="2" fill="#fff"/>
<rect x="371" y="452" width="3" height="2" fill="#fff"/>
<rect x="377" y="452" width="3" height="2" fill="#fff"/>
<rect x="383" y="452" width="3" height="2" fill="#fff"/>
<rect x="388" y="452" width="3" height="2" fill="#fff"/>
<rect x="394" y="452" width="3" height="2" fill="#fff"/>
<rect x="400" y="452" width="3" height="2" fill="#fff"/>
<rect x="318" y="458" width="3" height="2" fill="#fff"/>
<rect x="324" y="458" width="3" height="2" fill="#fff"/>
<rect x="330" y="458" width="3" height="2" fill="#fff"/>
<rect x="336" y="458" width="3" height="2" fill="#fff"/>
<rect x="342" y="458" width="3" height="2" fill="#fff"/>
<rect x="347" y="458" width="3" height="2" fill="#fff"/>
<rect x="353" y="458" width="3" height="2" fill="#fff"/>
<rect x="359" y="458" width="3" height="2" fill="#fff"/>
<rect x="365" y="458" width="3" height="2" fill="#fff"/>
<rect x="371" y="458" width="3" height="2" fill="#fff"/>
<rect x="377" y="458" width="3" height="2" fill="#fff"/>
<rect x="383" y="458" width="3" height="2" fill="#fff"/>
<rect x="388" y="458" width="3" height="2" fill="#fff"/>
<rect x="394" y="458" width="3" height="2" fill="#fff"/>
<rect x="400" y="458" width="3" height="2" fill="#fff"/>
<rect x="318" y="463" width="3" height="2" fill="#fff"/>
<rect x="324" y="463" width="3" height="2" fill="#fff"/>
<rect x="330" y="463" width="3" height="2" fill="#fff"/>
<rect x="336" y="463" width="3" height="2" fill="#fff"/>
<rect x="342" y="463" width="3" height="2" fill="#fff"/>
<rect x="347" y="463" width="3" height="2" fill="#fff"/>
<rect x="353" y="463" width="3" height="2" fill="#fff"/>
<rect x="359" y="463" width="3" height="2" fill="#fff"/>
<rect x="365" y="463" width="3" height="2" fill="#fff"/>
<rect x="371" y="463" width="3" height="2" fill="#fff"/>
<rect x="377" y="463" width="3" height="2" fill="#fff"/>
<rect x="383" y="463" width="3" height="2" fill="#fff"/>
<rect x="388" y="463" width="3" height="2" fill="#fff"/>
<rect x="394" y="463" width="3" height="2" fill="#fff"/>
<rect x="400" y="463" width="3" height="2" fill="#fff"/>
<circle cx="341.2" cy="404.5" r="2.3" fill="#000" shape-rendering="geometricPrecision"/>
<rect x="523" y="366" width="88" height="41" fill="#000"/>
<rect x="609" y="381" width="2" height="12" fill="#fff"/>
<rect x="555" y="422" width="127" height="42" fill="#000"/>
<rect x="680" y="438" width="2" height="11" fill="#fff"/>
<rect x="557" y="461" width="4" height="1" fill="#fff"/>
<rect x="563" y="461" width="4" height="1" fill="#fff"/>
<rect x="569" y="461" width="4" height="1" fill="#fff"/>
<rect x="575" y="461" width="4" height="1" fill="#fff"/>
<rect x="581" y="461" width="4" height="1" fill="#fff"/>
<rect x="587" y="461" width="4" height="1" fill="#fff"/>
<rect x="593" y="461" width="4" height="1" fill="#fff"/>
<rect x="599" y="461" width="4" height="1" fill="#fff"/>
<rect x="605" y="461" width="4" height="1" fill="#fff"/>
<rect x="611" y="461" width="4" height="1" fill="#fff"/>
<rect x="617" y="461" width="4" height="1" fill="#fff"/>
<rect x="623" y="461" width="4" height="1" fill="#fff"/>
<rect x="629" y="461" width="4" height="1" fill="#fff"/>
<rect x="635" y="461" width="4" height="1" fill="#fff"/>
<rect x="641" y="461" width="4" height="1" fill="#fff"/>
<rect x="647" y="461" width="4" height="1" fill="#fff"/>
<rect x="653" y="461" width="4" height="1" fill="#fff"/>
<rect x="659" y="461" width="4" height="1" fill="#fff"/>
<rect x="665" y="461" width="4" height="1" fill="#fff"/>
<rect x="671" y="461" width="4" height="1" fill="#fff"/>
<rect x="677" y="461" width="4" height="1" fill="#fff"/>
<rect x="476" y="451" width="61" height="60" fill="#000"/>
<rect x="484" y="453" width="4" height="5" fill="#fff"/>
<rect x="489" y="453" width="28" height="5" fill="#fff"/>
<rect x="518" y="453" width="10" height="5" fill="#fff"/>
<rect x="478" y="459" width="5" height="15" fill="#fff"/>
<rect x="478" y="475" width="5" height="17" fill="#fff"/>
<rect x="478" y="493" width="5" height="10" fill="#fff"/>
<rect x="529" y="459" width="5" height="15" fill="#fff"/>
<rect x="529" y="475" width="5" height="8" fill="#fff"/>
<rect x="529" y="484" width="5" height="8" fill="#fff"/>
<rect x="529" y="493" width="5" height="10" fill="#fff"/>
<rect x="484" y="505" width="8" height="5" fill="#fff"/>
<rect x="493" y="505" width="10" height="5" fill="#fff"/>
<rect x="504" y="505" width="6" height="5" fill="#fff"/>
<rect x="511" y="505" width="17" height="5" fill="#fff"/>
<polygon points="483,498 483,504 489,504" fill="#fff"/>
<rect x="477" y="504" width="7" height="6" fill="#fff"/>
<polygon points="476,506 476,511 481,511" fill="#fff"/>
<polyline points="476.5,506 481,510.5" stroke="#000" fill="none" stroke-width="1.2" shape-rendering="geometricPrecision"/>
<circle cx="480.6" cy="506.8" r="2.4" fill="#fff" stroke="#000" stroke-width="1" shape-rendering="geometricPrecision"/>
<defs><pattern id="dots" x="0" y="0" width="2" height="2" patternUnits="userSpaceOnUse"><rect x="0" y="0" width="1" height="1" fill="#000"/></pattern></defs>
<path d="M728.5,383.5 L730.5,381.5 L731.5,380.5 L735.5,380.5 L736.5,381.5 L738.5,381.5 L739.5,382.5 L742.5,382.5 L743.5,381.5 L746.5,381.5 L747.5,380.5 L750.5,380.5 L751.5,381.5 L753.5,381.5 L754.5,382.5 L759.5,382.5 L760.5,381.5 L762.5,381.5 L763.5,380.5 L766.5,380.5 L768.5,382.5 L768.5,405.5 L766.5,407.5 L762.5,407.5 L761.5,406.5 L753.5,406.5 L752.5,407.5 L747.5,407.5 L746.5,406.5 L738.5,406.5 L737.5,407.5 L733.5,407.5 L732.5,406.5 L730.5,406.5 L728.5,404.5 Z" fill="#fff"/><path d="M728.5,383.5 L730.5,381.5 L731.5,380.5 L735.5,380.5 L736.5,381.5 L738.5,381.5 L739.5,382.5 L742.5,382.5 L743.5,381.5 L746.5,381.5 L747.5,380.5 L750.5,380.5 L751.5,381.5 L753.5,381.5 L754.5,382.5 L759.5,382.5 L760.5,381.5 L762.5,381.5 L763.5,380.5 L766.5,380.5 L768.5,382.5 L768.5,405.5 L766.5,407.5 L762.5,407.5 L761.5,406.5 L753.5,406.5 L752.5,407.5 L747.5,407.5 L746.5,406.5 L738.5,406.5 L737.5,407.5 L733.5,407.5 L732.5,406.5 L730.5,406.5 L728.5,404.5 Z" fill="url(#dots)" stroke="#000" stroke-width="1"/>
<rect x="755" y="434" width="30" height="38" fill="#000"/>
<rect x="779" y="428" width="6" height="51" fill="#000"/>
<rect x="748" y="442" width="8" height="10" fill="#000"/>
<rect x="749" y="443" width="6" height="8" fill="#fff"/>
<rect x="748" y="455" width="8" height="10" fill="#000"/>
<rect x="749" y="456" width="6" height="8" fill="#fff"/>
<rect x="752" y="442" width="1" height="23" fill="#000"/>
<rect x="598" y="487" width="114" height="25" fill="#000"/>
<rect x="599" y="488" width="112" height="23" fill="#fff"/>
<rect x="604" y="490" width="2" height="2" fill="#000"/>
<rect x="602" y="492" width="6" height="2" fill="#000"/>
<rect x="602" y="497" width="7" height="3" fill="#000"/>
<rect x="603" y="498" width="1" height="1" fill="#fff"/>
<rect x="605" y="498" width="1" height="1" fill="#fff"/>
<rect x="607" y="498" width="1" height="1" fill="#fff"/>
<rect x="602" y="502" width="7" height="7" fill="#000"/>
<rect x="603" y="503" width="5" height="5" fill="#fff"/>
<rect x="613" y="490" width="2" height="2" fill="#000"/>
<rect x="611" y="492" width="6" height="2" fill="#000"/>
<rect x="611" y="497" width="7" height="3" fill="#000"/>
<rect x="612" y="498" width="1" height="1" fill="#fff"/>
<rect x="614" y="498" width="1" height="1" fill="#fff"/>
<rect x="616" y="498" width="1" height="1" fill="#fff"/>
<rect x="611" y="502" width="7" height="7" fill="#000"/>
<rect x="612" y="503" width="5" height="5" fill="#fff"/>
<rect x="622" y="490" width="2" height="2" fill="#000"/>
<rect x="620" y="492" width="6" height="2" fill="#000"/>
<rect x="620" y="497" width="7" height="3" fill="#000"/>
<rect x="621" y="498" width="1" height="1" fill="#fff"/>
<rect x="623" y="498" width="1" height="1" fill="#fff"/>
<rect x="625" y="498" width="1" height="1" fill="#fff"/>
<rect x="620" y="502" width="7" height="7" fill="#000"/>
<rect x="621" y="503" width="5" height="5" fill="#fff"/>
<rect x="631" y="490" width="2" height="2" fill="#000"/>
<rect x="629" y="492" width="6" height="2" fill="#000"/>
<rect x="629" y="497" width="7" height="3" fill="#000"/>
<rect x="630" y="498" width="1" height="1" fill="#fff"/>
<rect x="632" y="498" width="1" height="1" fill="#fff"/>
<rect x="634" y="498" width="1" height="1" fill="#fff"/>
<rect x="629" y="502" width="7" height="7" fill="#000"/>
<rect x="630" y="503" width="5" height="5" fill="#fff"/>
<rect x="640" y="490" width="2" height="2" fill="#000"/>
<rect x="638" y="492" width="6" height="2" fill="#000"/>
<rect x="638" y="497" width="7" height="3" fill="#000"/>
<rect x="639" y="498" width="1" height="1" fill="#fff"/>
<rect x="641" y="498" width="1" height="1" fill="#fff"/>
<rect x="643" y="498" width="1" height="1" fill="#fff"/>
<rect x="638" y="502" width="7" height="7" fill="#000"/>
<rect x="639" y="503" width="5" height="5" fill="#fff"/>
<rect x="649" y="490" width="2" height="2" fill="#000"/>
<rect x="647" y="492" width="6" height="2" fill="#000"/>
<rect x="647" y="497" width="7" height="3" fill="#000"/>
<rect x="648" y="498" width="1" height="1" fill="#fff"/>
<rect x="650" y="498" width="1" height="1" fill="#fff"/>
<rect x="652" y="498" width="1" height="1" fill="#fff"/>
<rect x="647" y="502" width="7" height="7" fill="#000"/>
<rect x="648" y="503" width="5" height="5" fill="#fff"/>
<rect x="658" y="490" width="2" height="2" fill="#000"/>
<rect x="656" y="492" width="6" height="2" fill="#000"/>
<rect x="656" y="497" width="7" height="3" fill="#000"/>
<rect x="657" y="498" width="1" height="1" fill="#fff"/>
<rect x="659" y="498" width="1" height="1" fill="#fff"/>
<rect x="661" y="498" width="1" height="1" fill="#fff"/>
<rect x="656" y="502" width="7" height="7" fill="#000"/>
<rect x="657" y="503" width="5" height="5" fill="#fff"/>
<rect x="667" y="490" width="2" height="2" fill="#000"/>
<rect x="665" y="492" width="6" height="2" fill="#000"/>
<rect x="665" y="497" width="7" height="3" fill="#000"/>
<rect x="666" y="498" width="1" height="1" fill="#fff"/>
<rect x="668" y="498" width="1" height="1" fill="#fff"/>
<rect x="670" y="498" width="1" height="1" fill="#fff"/>
<rect x="665" y="502" width="7" height="7" fill="#000"/>
<rect x="666" y="503" width="5" height="5" fill="#fff"/>
<rect x="676" y="490" width="2" height="2" fill="#000"/>
<rect x="674" y="492" width="6" height="2" fill="#000"/>
<rect x="674" y="497" width="7" height="3" fill="#000"/>
<rect x="675" y="498" width="1" height="1" fill="#fff"/>
<rect x="677" y="498" width="1" height="1" fill="#fff"/>
<rect x="679" y="498" width="1" height="1" fill="#fff"/>
<rect x="674" y="502" width="7" height="7" fill="#000"/>
<rect x="675" y="503" width="5" height="5" fill="#fff"/>
<rect x="685" y="490" width="2" height="2" fill="#000"/>
<rect x="683" y="492" width="6" height="2" fill="#000"/>
<rect x="683" y="497" width="7" height="3" fill="#000"/>
<rect x="684" y="498" width="1" height="1" fill="#fff"/>
<rect x="686" y="498" width="1" height="1" fill="#fff"/>
<rect x="688" y="498" width="1" height="1" fill="#fff"/>
<rect x="683" y="502" width="7" height="7" fill="#000"/>
<rect x="684" y="503" width="5" height="5" fill="#fff"/>
<rect x="694" y="490" width="2" height="2" fill="#000"/>
<rect x="692" y="492" width="6" height="2" fill="#000"/>
<rect x="692" y="497" width="7" height="3" fill="#000"/>
<rect x="693" y="498" width="1" height="1" fill="#fff"/>
<rect x="695" y="498" width="1" height="1" fill="#fff"/>
<rect x="697" y="498" width="1" height="1" fill="#fff"/>
<rect x="692" y="502" width="7" height="7" fill="#000"/>
<rect x="693" y="503" width="5" height="5" fill="#fff"/>
<rect x="703" y="490" width="2" height="2" fill="#000"/>
<rect x="701" y="492" width="6" height="2" fill="#000"/>
<rect x="701" y="497" width="7" height="3" fill="#000"/>
<rect x="702" y="498" width="1" height="1" fill="#fff"/>
<rect x="704" y="498" width="1" height="1" fill="#fff"/>
<rect x="706" y="498" width="1" height="1" fill="#fff"/>
<rect x="701" y="502" width="7" height="7" fill="#000"/>
<rect x="702" y="503" width="5" height="5" fill="#fff"/>
<rect x="598" y="505" width="2" height="4" fill="#000"/>
<rect x="710" y="505" width="2" height="4" fill="#000"/>
<rect x="599" y="495" width="112" height="1" fill="#000"/>
<rect x="27" y="44" width="14" height="7" fill="#000"/>
<rect x="29" y="45" width="1" height="5" fill="#fff"/>
<rect x="33" y="45" width="1" height="5" fill="#fff"/>
<rect x="38" y="45" width="1" height="5" fill="#fff"/>
<rect x="34" y="61" width="7" height="19" fill="#000"/>
<rect x="35" y="62" width="5" height="17" fill="#fff"/>
<rect x="35" y="63" width="4" height="4" fill="#000"/>
<rect x="36" y="64" width="2" height="2" fill="#fff"/>
<rect x="34" y="68" width="5" height="5" fill="#000"/>
<rect x="34" y="74" width="5" height="6" fill="#000"/>
<rect x="27" y="91" width="14" height="7" fill="#000"/>
<rect x="28" y="92" width="12" height="5" fill="#fff"/>
<rect x="29" y="91" width="4" height="5" fill="#000"/>
<rect x="34" y="91" width="5" height="5" fill="#000"/>
<rect x="27" y="113" width="14" height="7" fill="#000"/>
<rect x="31" y="114" width="1" height="5" fill="#fff"/>
<rect x="35" y="114" width="1" height="5" fill="#fff"/>
<rect x="38" y="114" width="1" height="5" fill="#fff"/>
<rect x="15" y="138" width="26" height="7" fill="#000"/>
<rect x="16" y="139" width="24" height="5" fill="#fff"/>
<rect x="17" y="140" width="3" height="3" fill="#000"/>
<rect x="18" y="141" width="1" height="1" fill="#fff"/>
<rect x="21" y="139" width="4" height="5" fill="#000"/>
<rect x="26" y="139" width="4" height="5" fill="#000"/>
<rect x="31" y="139" width="4" height="5" fill="#000"/>
<rect x="36" y="139" width="5" height="5" fill="#000"/>
<rect x="10" y="163" width="31" height="7" fill="#000"/>
<rect x="11" y="164" width="29" height="5" fill="#fff"/>
<rect x="12" y="165" width="3" height="3" fill="#000"/>
<rect x="13" y="166" width="1" height="1" fill="#fff"/>
<rect x="16" y="164" width="4" height="5" fill="#000"/>
<rect x="21" y="164" width="4" height="5" fill="#000"/>
<rect x="26" y="164" width="4" height="5" fill="#000"/>
<rect x="31" y="164" width="4" height="5" fill="#000"/>
<rect x="36" y="164" width="5" height="5" fill="#000"/>
<rect x="174" y="342" width="16" height="7" fill="#000"/>
<rect x="181" y="343" width="1" height="5" fill="#fff"/>
<rect x="185" y="343" width="1" height="5" fill="#fff"/>
<rect x="176" y="343" width="4" height="3" fill="#fff"/>
<rect x="182" y="343" width="3" height="3" fill="#fff"/>
<rect x="186" y="343" width="3" height="3" fill="#fff"/>
<rect x="107" y="504" width="19" height="7" fill="#000"/>
<rect x="108" y="505" width="17" height="5" fill="#fff"/>
<rect x="109" y="506" width="4" height="4" fill="#000"/>
<rect x="110" y="507" width="2" height="2" fill="#fff"/>
<rect x="114" y="506" width="4" height="5" fill="#000"/>
<rect x="120" y="506" width="6" height="5" fill="#000"/>
<rect x="146" y="504" width="13" height="7" fill="#000"/>
<rect x="147" y="505" width="11" height="1" fill="#fff"/>
<rect x="152" y="505" width="1" height="5" fill="#fff"/>
<rect x="179" y="504" width="14" height="7" fill="#000"/>
<rect x="180" y="505" width="12" height="5" fill="#fff"/>
<rect x="181" y="504" width="4" height="5" fill="#000"/>
<rect x="186" y="504" width="5" height="5" fill="#000"/>
<rect x="229" y="318" width="19" height="7" fill="#000"/>
<rect x="230" y="319" width="17" height="5" fill="#fff"/>
<rect x="231" y="320" width="4" height="4" fill="#000"/>
<rect x="232" y="321" width="2" height="2" fill="#fff"/>
<rect x="236" y="320" width="4" height="5" fill="#000"/>
<rect x="242" y="320" width="6" height="5" fill="#000"/>
<rect x="236" y="313" width="6" height="5" fill="#000"/>
<rect x="218" y="496" width="19" height="7" fill="#000"/>
<rect x="219" y="497" width="17" height="5" fill="#fff"/>
<rect x="220" y="498" width="4" height="4" fill="#000"/>
<rect x="221" y="499" width="2" height="2" fill="#fff"/>
<rect x="225" y="498" width="4" height="5" fill="#000"/>
<rect x="231" y="498" width="6" height="5" fill="#000"/>
<rect x="218" y="504" width="19" height="7" fill="#000"/>
<rect x="219" y="505" width="17" height="5" fill="#fff"/>
<rect x="220" y="506" width="4" height="4" fill="#000"/>
<rect x="221" y="507" width="2" height="2" fill="#fff"/>
<rect x="225" y="506" width="4" height="5" fill="#000"/>
<rect x="231" y="506" width="6" height="5" fill="#000"/>
<rect x="256" y="497" width="7" height="14" fill="#000"/>
<rect x="257" y="498" width="5" height="12" fill="#fff"/>
<rect x="256" y="497" width="4" height="5" fill="#000"/>
<rect x="256" y="503" width="4" height="4" fill="#000"/>
<rect x="267" y="497" width="7" height="14" fill="#000"/>
<rect x="268" y="498" width="5" height="12" fill="#fff"/>
<rect x="270" y="497" width="4" height="5" fill="#000"/>
<rect x="270" y="503" width="4" height="4" fill="#000"/>
<rect x="270" y="508" width="4" height="3" fill="#000"/>
<rect x="282" y="497" width="7" height="14" fill="#000"/>
<rect x="283" y="498" width="5" height="1" fill="#fff"/>
<rect x="283" y="504" width="5" height="1" fill="#fff"/>
<rect x="283" y="509" width="5" height="1" fill="#fff"/>
<rect x="310" y="496" width="19" height="7" fill="#000"/>
<rect x="311" y="497" width="17" height="5" fill="#fff"/>
<rect x="312" y="498" width="4" height="4" fill="#000"/>
<rect x="313" y="499" width="2" height="2" fill="#fff"/>
<rect x="317" y="498" width="4" height="5" fill="#000"/>
<rect x="323" y="498" width="6" height="5" fill="#000"/>
<rect x="310" y="504" width="19" height="7" fill="#000"/>
<rect x="311" y="505" width="17" height="5" fill="#fff"/>
<rect x="312" y="506" width="4" height="4" fill="#000"/>
<rect x="313" y="507" width="2" height="2" fill="#fff"/>
<rect x="317" y="506" width="4" height="5" fill="#000"/>
<rect x="323" y="506" width="6" height="5" fill="#000"/>
<rect x="420" y="402" width="7" height="14" fill="#000"/>
<rect x="421" y="403" width="5" height="1" fill="#fff"/>
<rect x="421" y="408" width="5" height="1" fill="#fff"/>
<rect x="421" y="414" width="5" height="1" fill="#fff"/>
<rect x="462" y="493" width="6" height="13" fill="#000"/>
<rect x="463" y="494" width="4" height="1" fill="#fff"/>
<rect x="463" y="497" width="4" height="1" fill="#fff"/>
<rect x="463" y="501" width="4" height="1" fill="#fff"/>
<rect x="689" y="423" width="14" height="7" fill="#000"/>
<rect x="690" y="424" width="12" height="5" fill="#fff"/>
<rect x="691" y="423" width="4" height="5" fill="#000"/>
<rect x="696" y="423" width="5" height="5" fill="#000"/>
<rect x="596" y="474" width="14" height="7" fill="#000"/>
<rect x="597" y="475" width="12" height="5" fill="#fff"/>
<rect x="598" y="474" width="4" height="5" fill="#000"/>
<rect x="603" y="474" width="5" height="5" fill="#000"/>
<rect x="725" y="367" width="26" height="7" fill="#000"/>
<rect x="726" y="368" width="24" height="5" fill="#fff"/>
<rect x="727" y="369" width="3" height="3" fill="#000"/>
<rect x="728" y="370" width="1" height="1" fill="#fff"/>
<rect x="731" y="368" width="4" height="5" fill="#000"/>
<rect x="736" y="368" width="4" height="5" fill="#000"/>
<rect x="741" y="368" width="4" height="5" fill="#000"/>
<rect x="746" y="368" width="5" height="5" fill="#000"/>
<rect x="13" y="9" width="41" height="16" rx="3" ry="3" fill="#fff" stroke="#000" stroke-width="2" shape-rendering="geometricPrecision"/>
<text transform="scale(0.75,1)" x="21.07 30.93 42.93 52.00" y="21" font-size="13.5" fill="#000" stroke="#000" stroke-width="0.22" font-weight="normal">JP<tspan font-size="11.74">0</tspan>A</text>
<polygon points="31.2,25 36,25 33.6,31" fill="#fff" shape-rendering="geometricPrecision"/>
<path d="M31.2,25 L33.6,31 L36,25" fill="none" stroke="#000" stroke-width="2.2" stroke-linejoin="miter" shape-rendering="geometricPrecision"/>
<polygon points="31.90,31.00 35.30,31.00 34.50,44.00 32.70,44.00" fill="#000" shape-rendering="geometricPrecision"/>
<rect x="49" y="48" width="37" height="15" rx="3" ry="3" fill="#fff" stroke="#000" stroke-width="2" shape-rendering="geometricPrecision"/>
<text transform="scale(0.75,1)" x="69.73 79.73 90.93 101.60" y="60" font-size="13.5" fill="#000" stroke="#000" stroke-width="0.22" font-weight="normal">JP<tspan font-size="11.74">0</tspan>B</text>
<polygon points="48.9,60.8 52,63.1 41.5,71" fill="#fff" shape-rendering="geometricPrecision"/>
<path d="M48.9,60.8 L41.5,71 L52,63.1" fill="none" stroke="#000" stroke-width="2" stroke-linejoin="bevel" shape-rendering="geometricPrecision"/>
<rect x="49" y="71" width="32" height="15" rx="3" ry="3" fill="#fff" stroke="#000" stroke-width="2" shape-rendering="geometricPrecision"/>
<text transform="scale(0.75,1)" x="70.67 82.40 93.07" y="83" font-size="13.5" fill="#000" stroke="#000" stroke-width="0.22" font-weight="normal">JP<tspan font-size="11.74">0</tspan></text>
<polygon points="48.9,83.8 52,86.1 41.5,94.5" fill="#fff" shape-rendering="geometricPrecision"/>
<path d="M48.9,83.8 L41.5,94.5 L52,86.1" fill="none" stroke="#000" stroke-width="2" stroke-linejoin="bevel" shape-rendering="geometricPrecision"/>
<rect x="49" y="93" width="32" height="14" rx="3" ry="3" fill="#fff" stroke="#000" stroke-width="2" shape-rendering="geometricPrecision"/>
<text transform="scale(0.75,1)" x="71.33 81.73 92.80" y="103.8" font-size="13.5" fill="#000" stroke="#000" stroke-width="0.22" font-weight="normal">JP1</text>
<polygon points="48.9,104.8 52,107.1 41.5,116.5" fill="#fff" shape-rendering="geometricPrecision"/>
<path d="M48.9,104.8 L41.5,116.5 L52,107.1" fill="none" stroke="#000" stroke-width="2" stroke-linejoin="bevel" shape-rendering="geometricPrecision"/>
<rect x="49" y="118" width="32" height="15" rx="3" ry="3" fill="#fff" stroke="#000" stroke-width="2" shape-rendering="geometricPrecision"/>
<text transform="scale(0.75,1)" x="70.67 81.73 92.40" y="129.8" font-size="13.5" fill="#000" stroke="#000" stroke-width="0.22" font-weight="normal">JP2</text>
<polygon points="48.9,130.8 52,133.1 41.5,142" fill="#fff" shape-rendering="geometricPrecision"/>
<path d="M48.9,130.8 L41.5,142 L52,133.1" fill="none" stroke="#000" stroke-width="2" stroke-linejoin="bevel" shape-rendering="geometricPrecision"/>
<rect x="49" y="144" width="32" height="14" rx="3" ry="3" fill="#fff" stroke="#000" stroke-width="2" shape-rendering="geometricPrecision"/>
<text transform="scale(0.75,1)" x="70.40 82.27 92.40" y="155.2" font-size="13.5" fill="#000" stroke="#000" stroke-width="0.22" font-weight="normal">JP3</text>
<polygon points="48.9,155.8 52,158.1 41.5,166.5" fill="#fff" shape-rendering="geometricPrecision"/>
<path d="M48.9,155.8 L41.5,166.5 L52,158.1" fill="none" stroke="#000" stroke-width="2" stroke-linejoin="bevel" shape-rendering="geometricPrecision"/>
<rect x="127" y="49" width="59" height="17" fill="#000"/>
<rect x="129" y="51" width="55" height="14" fill="#fff"/>
<text transform="scale(0.75,1)" x="176.00 186.67 200.00 212.27 222.67 229.33" y="61" font-size="13.5" fill="#000" stroke="#000" stroke-width="0.22" font-weight="normal">BANK 1</text>
<rect x="127" y="129" width="59" height="17" fill="#000"/>
<rect x="129" y="131" width="55" height="14" fill="#fff"/>
<text transform="scale(0.75,1)" x="174.67 184.67 198.93 211.07 221.33 228.00" y="141.8" font-size="13.5" fill="#000" stroke="#000" stroke-width="0.22" font-weight="normal">BANK 0</text>
<rect x="131" y="49" width="3" height="1" fill="#fff"/>
<rect x="131" y="129" width="3" height="1" fill="#fff"/>
<rect x="137" y="49" width="3" height="1" fill="#fff"/>
<rect x="137" y="129" width="3" height="1" fill="#fff"/>
<rect x="143" y="49" width="3" height="1" fill="#fff"/>
<rect x="143" y="129" width="3" height="1" fill="#fff"/>
<rect x="149" y="49" width="3" height="1" fill="#fff"/>
<rect x="149" y="129" width="3" height="1" fill="#fff"/>
<rect x="155" y="49" width="3" height="1" fill="#fff"/>
<rect x="155" y="129" width="3" height="1" fill="#fff"/>
<rect x="161" y="49" width="3" height="1" fill="#fff"/>
<rect x="161" y="129" width="3" height="1" fill="#fff"/>
<rect x="167" y="49" width="3" height="1" fill="#fff"/>
<rect x="167" y="129" width="3" height="1" fill="#fff"/>
<rect x="173" y="49" width="3" height="1" fill="#fff"/>
<rect x="173" y="129" width="3" height="1" fill="#fff"/>
<rect x="179" y="49" width="3" height="1" fill="#fff"/>
<rect x="179" y="129" width="3" height="1" fill="#fff"/>
<rect x="314" y="56" width="24" height="17" rx="3" ry="3" fill="#fff" stroke="#000" stroke-width="2" shape-rendering="geometricPrecision"/>
<text transform="scale(0.75,1)" x="424.80 435.07" y="67.8" font-size="13.5" fill="#000" stroke="#000" stroke-width="0.22" font-weight="normal">S1</text>
<polygon points="323.8,56 329.8,56 326.8,47" fill="#fff" shape-rendering="geometricPrecision"/>
<path d="M323.8,56 L326.8,47 L329.8,56" fill="none" stroke="#000" stroke-width="2.2" stroke-linejoin="miter" shape-rendering="geometricPrecision"/>
<polygon points="328.50,47.00 325.10,47.00 325.90,38.00 327.70,38.00" fill="#000" shape-rendering="geometricPrecision"/>
<text transform="scale(0.72,1)" x="899.44 911.94 923.06 931.94 941.11 950.83" y="53.8" font-size="12" fill="#000" stroke="#000" stroke-width="0.22" font-weight="normal">MH<tspan font-size="10.44">0</tspan>778</text>
<rect x="32" y="281" width="46" height="15" fill="#fff"/>
<rect x="32" y="296" width="46" height="2" fill="#000"/>
<rect x="33" y="298" width="3" height="1" fill="#fff"/>
<rect x="39" y="298" width="3" height="1" fill="#fff"/>
<rect x="44" y="298" width="3" height="1" fill="#fff"/>
<rect x="50" y="298" width="3" height="1" fill="#fff"/>
<rect x="56" y="298" width="3" height="1" fill="#fff"/>
<rect x="62" y="298" width="3" height="1" fill="#fff"/>
<rect x="68" y="298" width="3" height="1" fill="#fff"/>
<rect x="74" y="298" width="3" height="1" fill="#fff"/>
<text transform="scale(0.75,1)" x="44.00 55.47 68.40 81.87 95.33" y="292.3" font-size="13.5" fill="#000" stroke="#000" stroke-width="0.22" font-weight="normal">CACHE</text>
<rect x="32" y="416" width="46" height="14" fill="#fff"/>
<rect x="32" y="430" width="46" height="1" fill="#000"/>
<text transform="scale(0.75,1)" x="44.00 55.47 68.40 81.87 95.33" y="426.8" font-size="13.5" fill="#000" stroke="#000" stroke-width="0.22" font-weight="normal">CACHE</text>
<rect x="179" y="298" width="32" height="16" rx="3" ry="3" fill="#fff" stroke="#000" stroke-width="2" shape-rendering="geometricPrecision"/>
<text transform="scale(0.75,1)" x="242.13 255.20 267.20" y="311" font-size="13.5" fill="#000" stroke="#000" stroke-width="0.22" font-weight="normal">OSC</text>
<rect x="178" y="300" width="3" height="12" fill="#000"/>
<rect x="209" y="300" width="3" height="12" fill="#000"/>
<rect x="250" y="294" width="32" height="17" rx="3" ry="3" fill="#fff" stroke="#000" stroke-width="2" shape-rendering="geometricPrecision"/>
<text transform="scale(0.75,1)" x="338.40 348.53 359.47" y="305.8" font-size="13.5" fill="#000" stroke="#000" stroke-width="0.22" font-weight="normal">JP7</text>
<polygon points="249.9,308.8 253,311.1 241,318.5" fill="#fff" shape-rendering="geometricPrecision"/>
<path d="M249.9,308.8 L241,318.5 L253,311.1" fill="none" stroke="#000" stroke-width="2" stroke-linejoin="bevel" shape-rendering="geometricPrecision"/>
<text transform="scale(0.75,1)" x="313.87" y="309.8" font-size="12" fill="#000" stroke="#000" stroke-width="0.22" font-weight="normal">4</text>
<text transform="scale(0.75,1)" x="332.80" y="325.6" font-size="12" fill="#000" stroke="#000" stroke-width="0.22" font-weight="normal">3</text>
<rect x="126" y="337" width="34" height="17" rx="3" ry="3" fill="#fff" stroke="#000" stroke-width="2" shape-rendering="geometricPrecision"/>
<text transform="scale(0.75,1)" x="174.40 185.07 195.07" y="349" font-size="13.5" fill="#000" stroke="#000" stroke-width="0.22" font-weight="normal">JP4</text>
<polygon points="160,341.5 160,349.5 167.5,345.5" fill="#fff" shape-rendering="geometricPrecision"/>
<path d="M160,341.5 L167.5,345.5 L160,349.5" fill="none" stroke="#000" stroke-width="2.2" stroke-linejoin="miter" shape-rendering="geometricPrecision"/>
<polygon points="167.50,347.20 167.50,343.80 176.00,344.60 176.00,346.40" fill="#000" shape-rendering="geometricPrecision"/>
<rect x="232" y="334" width="40" height="22" fill="#000"/>
<rect x="234" y="336.5" width="35.5" height="16" fill="#fff"/>
<rect x="235" y="335" width="4" height="1" fill="#fff"/>
<rect x="235" y="354" width="4" height="1" fill="#fff"/>
<rect x="241" y="335" width="4" height="1" fill="#fff"/>
<rect x="241" y="354" width="4" height="1" fill="#fff"/>
<rect x="247" y="335" width="4" height="1" fill="#fff"/>
<rect x="247" y="354" width="4" height="1" fill="#fff"/>
<rect x="253" y="335" width="4" height="1" fill="#fff"/>
<rect x="253" y="354" width="4" height="1" fill="#fff"/>
<rect x="259" y="335" width="4" height="1" fill="#fff"/>
<rect x="259" y="354" width="4" height="1" fill="#fff"/>
<rect x="265" y="335" width="4" height="1" fill="#fff"/>
<rect x="265" y="354" width="4" height="1" fill="#fff"/>
<text transform="scale(0.75,1)" x="313.73 324.53 334.93 344.67" y="349" font-size="13.5" fill="#000" stroke="#000" stroke-width="0.22" font-weight="normal">U205</text>
<rect x="248" y="373" width="31" height="16" rx="2" ry="2" fill="#fff" stroke="#000" stroke-width="2" shape-rendering="geometricPrecision"/>
<text transform="scale(0.75,1)" x="335.20 344.80 357.60" y="385.2" font-size="13.5" fill="#000" stroke="#000" stroke-width="0.22" font-weight="normal">TAG</text>
<polygon points="256,373 262.5,373 252.5,361" fill="#fff" shape-rendering="geometricPrecision"/>
<path d="M256,373 L252.5,361 L262.5,373" fill="none" stroke="#000" stroke-width="1.6" stroke-linejoin="miter" shape-rendering="geometricPrecision"/>
<polygon points="253.99,360.18 251.01,361.82 249.51,357.43 251.09,356.57" fill="#000" shape-rendering="geometricPrecision"/>
<polygon points="261,389 268,389 270,400" fill="#fff" shape-rendering="geometricPrecision"/>
<path d="M261,389 L270,400 L268,389" fill="none" stroke="#000" stroke-width="1.6" stroke-linejoin="miter" shape-rendering="geometricPrecision"/>
<polygon points="268.34,400.36 271.66,399.64 272.38,406.81 270.62,407.19" fill="#000" shape-rendering="geometricPrecision"/>
<rect x="252" y="409" width="40" height="21" fill="#000"/>
<rect x="254" y="412" width="35" height="14" fill="#fff"/>
<rect x="255" y="410" width="4" height="1" fill="#fff"/>
<rect x="255" y="428" width="4" height="1" fill="#fff"/>
<rect x="261" y="410" width="4" height="1" fill="#fff"/>
<rect x="261" y="428" width="4" height="1" fill="#fff"/>
<rect x="267" y="410" width="4" height="1" fill="#fff"/>
<rect x="267" y="428" width="4" height="1" fill="#fff"/>
<rect x="273" y="410" width="4" height="1" fill="#fff"/>
<rect x="273" y="428" width="4" height="1" fill="#fff"/>
<rect x="279" y="410" width="4" height="1" fill="#fff"/>
<rect x="279" y="428" width="4" height="1" fill="#fff"/>
<rect x="285" y="410" width="4" height="1" fill="#fff"/>
<rect x="285" y="428" width="4" height="1" fill="#fff"/>
<text transform="scale(0.75,1)" x="341.07 351.73 362.93 373.33" y="423.2" font-size="13.5" fill="#000" stroke="#000" stroke-width="0.22" font-weight="normal">U502</text>
<rect x="252" y="435.3" width="40" height="21" fill="#000"/>
<rect x="254" y="438.3" width="35" height="14" fill="#fff"/>
<rect x="255" y="436.3" width="4" height="1" fill="#fff"/>
<rect x="255" y="454.3" width="4" height="1" fill="#fff"/>
<rect x="261" y="436.3" width="4" height="1" fill="#fff"/>
<rect x="261" y="454.3" width="4" height="1" fill="#fff"/>
<rect x="267" y="436.3" width="4" height="1" fill="#fff"/>
<rect x="267" y="454.3" width="4" height="1" fill="#fff"/>
<rect x="273" y="436.3" width="4" height="1" fill="#fff"/>
<rect x="273" y="454.3" width="4" height="1" fill="#fff"/>
<rect x="279" y="436.3" width="4" height="1" fill="#fff"/>
<rect x="279" y="454.3" width="4" height="1" fill="#fff"/>
<rect x="285" y="436.3" width="4" height="1" fill="#fff"/>
<rect x="285" y="454.3" width="4" height="1" fill="#fff"/>
<text transform="scale(0.75,1)" x="341.07 351.73 362.93 375.33" y="449.5" font-size="13.5" fill="#000" stroke="#000" stroke-width="0.22" font-weight="normal">U501</text>
<text transform="scale(0.75,1)" x="216.40 230.67 243.73" y="423.5" font-size="13.5" fill="#000" stroke="#000" stroke-width="0.22" font-weight="normal">CPU</text>
<rect x="344" y="415" width="31" height="16" rx="3" ry="3" fill="#fff" stroke="#000" stroke-width="2" shape-rendering="geometricPrecision"/>
<text transform="scale(0.75,1)" x="462.67 476.27 488.00" y="427.4" font-size="13.5" fill="#000" stroke="#000" stroke-width="0.22" font-weight="normal">NPU</text>
<rect x="547" y="378.6" width="40.4" height="15.4" rx="2" fill="#fff"/>
<text transform="scale(0.75,1)" x="736.53 748.27 753.73 766.67" y="391.2" font-size="13.5" fill="#000" stroke="#000" stroke-width="0.22" font-weight="normal">BIOS</text>
<rect x="604" y="436" width="29" height="14" rx="2" fill="#fff"/>
<text transform="scale(0.75,1)" x="809.07 821.60 832.53" y="446.7" font-size="13.5" fill="#000" stroke="#000" stroke-width="0.22" font-weight="normal">KBD</text>
<rect x="112" y="481" width="33" height="16" rx="3" ry="3" fill="#fff" stroke="#000" stroke-width="2" shape-rendering="geometricPrecision"/>
<text transform="scale(0.75,1)" x="154.13 164.93 176.00" y="492.5" font-size="13.5" fill="#000" stroke="#000" stroke-width="0.22" font-weight="normal">JP5</text>
<polygon points="145.1,494.8 142,497.1 153,505.5" fill="#fff" shape-rendering="geometricPrecision"/>
<path d="M145.1,494.8 L153,505.5 L142,497.1" fill="none" stroke="#000" stroke-width="2" stroke-linejoin="bevel" shape-rendering="geometricPrecision"/>
<rect x="148" y="480" width="32" height="16" rx="3" ry="3" fill="#fff" stroke="#000" stroke-width="2" shape-rendering="geometricPrecision"/>
<text transform="scale(0.75,1)" x="201.33 213.87 223.20" y="491.6" font-size="13.5" fill="#000" stroke="#000" stroke-width="0.22" font-weight="normal">JP6</text>
<polygon points="180.1,493.8 177,496.1 188,505" fill="#fff" shape-rendering="geometricPrecision"/>
<path d="M180.1,493.8 L188,505 L177,496.1" fill="none" stroke="#000" stroke-width="2" stroke-linejoin="bevel" shape-rendering="geometricPrecision"/>
<rect x="51" y="500" width="39" height="16" rx="3" ry="3" fill="#fff" stroke="#000" stroke-width="2" shape-rendering="geometricPrecision"/>
<text transform="scale(0.75,1)" x="72.00 82.67 93.87 102.93" y="512" font-size="13.5" fill="#000" stroke="#000" stroke-width="0.22" font-weight="normal">JP<tspan font-size="11.74">0</tspan>C</text>
<polygon points="90,504 90,512 97.5,508" fill="#fff" shape-rendering="geometricPrecision"/>
<path d="M90,504 L97.5,508 L90,512" fill="none" stroke="#000" stroke-width="2.2" stroke-linejoin="miter" shape-rendering="geometricPrecision"/>
<polygon points="97.50,509.70 97.50,506.30 107.50,507.10 107.50,508.90" fill="#000" shape-rendering="geometricPrecision"/>
<rect x="178" y="517" width="31" height="15" rx="3" ry="3" fill="#fff" stroke="#000" stroke-width="2" shape-rendering="geometricPrecision"/>
<text transform="scale(0.75,1)" x="242.67 253.60 264.27" y="528" font-size="13.5" fill="#000" stroke="#000" stroke-width="0.22" font-weight="normal">JP9</text>
<polygon points="209.1,519.2 206,516.9 218.5,507.5" fill="#fff" shape-rendering="geometricPrecision"/>
<path d="M209.1,519.2 L218.5,507.5 L206,516.9" fill="none" stroke="#000" stroke-width="2" stroke-linejoin="bevel" shape-rendering="geometricPrecision"/>
<rect x="213" y="462" width="31" height="17" rx="3" ry="3" fill="#fff" stroke="#000" stroke-width="2" shape-rendering="geometricPrecision"/>
<text transform="scale(0.75,1)" x="288.67 299.20 310.67" y="474" font-size="13.5" fill="#000" stroke="#000" stroke-width="0.22" font-weight="normal">JP8</text>
<polygon points="224.8,479 230.4,479 227.6,486.5" fill="#fff" shape-rendering="geometricPrecision"/>
<path d="M224.8,479 L227.6,486.5 L230.4,479" fill="none" stroke="#000" stroke-width="2.2" stroke-linejoin="miter" shape-rendering="geometricPrecision"/>
<polygon points="225.90,486.50 229.30,486.50 228.50,496.50 226.70,496.50" fill="#000" shape-rendering="geometricPrecision"/>
<rect x="250" y="462" width="41" height="17" rx="3" ry="3" fill="#fff" stroke="#000" stroke-width="2" shape-rendering="geometricPrecision"/>
<text transform="scale(0.75,1)" x="340.93 352.00 363.47 373.60" y="474" font-size="13.5" fill="#000" stroke="#000" stroke-width="0.22" font-weight="normal">JP11</text>
<polygon points="267.7,479 273.3,479 270.5,486.5" fill="#fff" shape-rendering="geometricPrecision"/>
<path d="M267.7,479 L270.5,486.5 L273.3,479" fill="none" stroke="#000" stroke-width="2.2" stroke-linejoin="miter" shape-rendering="geometricPrecision"/>
<polygon points="268.80,486.50 272.20,486.50 271.40,497.00 269.60,497.00" fill="#000" shape-rendering="geometricPrecision"/>
<rect x="213" y="519" width="38" height="16" rx="3" ry="3" fill="#fff" stroke="#000" stroke-width="2" shape-rendering="geometricPrecision"/>
<text transform="scale(0.75,1)" x="289.33 300.00 311.33 320.00" y="530.8" font-size="13.5" fill="#000" stroke="#000" stroke-width="0.22" font-weight="normal">JP12</text>
<polygon points="251.1,521.2 248,518.9 259.5,510.5" fill="#fff" shape-rendering="geometricPrecision"/>
<path d="M251.1,521.2 L259.5,510.5 L248,518.9" fill="none" stroke="#000" stroke-width="2" stroke-linejoin="bevel" shape-rendering="geometricPrecision"/>
<rect x="295" y="474" width="38" height="15" rx="3" ry="3" fill="#fff" stroke="#000" stroke-width="2" shape-rendering="geometricPrecision"/>
<text transform="scale(0.75,1)" x="397.73 408.40 421.33 429.33" y="485.6" font-size="13.5" fill="#000" stroke="#000" stroke-width="0.22" font-weight="normal">JP10</text>
<polygon points="294.9,486.8 298,489.1 286.5,498" fill="#fff" shape-rendering="geometricPrecision"/>
<path d="M294.9,486.8 L286.5,498 L298,489.1" fill="none" stroke="#000" stroke-width="2" stroke-linejoin="bevel" shape-rendering="geometricPrecision"/>
<rect x="337" y="477" width="38" height="15" rx="3" ry="3" fill="#fff" stroke="#000" stroke-width="2" shape-rendering="geometricPrecision"/>
<text transform="scale(0.75,1)" x="452.93 463.73 476.27 483.73" y="488" font-size="13.5" fill="#000" stroke="#000" stroke-width="0.22" font-weight="normal">JP14</text>
<polygon points="336.9,489.8 340,492.1 329.5,499.5" fill="#fff" shape-rendering="geometricPrecision"/>
<path d="M336.9,489.8 L329.5,499.5 L340,492.1" fill="none" stroke="#000" stroke-width="2" stroke-linejoin="bevel" shape-rendering="geometricPrecision"/>
<rect x="346" y="500" width="40" height="15" rx="3" ry="3" fill="#fff" stroke="#000" stroke-width="2" shape-rendering="geometricPrecision"/>
<text transform="scale(0.75,1)" x="467.07 477.60 489.87 497.87" y="510.7" font-size="13.5" fill="#000" stroke="#000" stroke-width="0.22" font-weight="normal">JP13</text>
<polygon points="346,503.5 346,511.5 338.5,507.5" fill="#fff" shape-rendering="geometricPrecision"/>
<path d="M346,503.5 L338.5,507.5 L346,511.5" fill="none" stroke="#000" stroke-width="2.2" stroke-linejoin="miter" shape-rendering="geometricPrecision"/>
<polygon points="338.50,505.80 338.50,509.20 329.50,508.40 329.50,506.60" fill="#000" shape-rendering="geometricPrecision"/>
<rect x="444" y="401" width="39" height="16" rx="3" ry="3" fill="#fff" stroke="#000" stroke-width="2" shape-rendering="geometricPrecision"/>
<text transform="scale(0.75,1)" x="595.73 606.67 618.13 627.07" y="413" font-size="13.5" fill="#000" stroke="#000" stroke-width="0.22" font-weight="normal">JP16</text>
<polygon points="444,405 444,413 436.5,409" fill="#fff" shape-rendering="geometricPrecision"/>
<path d="M444,405 L436.5,409 L444,413" fill="none" stroke="#000" stroke-width="2.2" stroke-linejoin="miter" shape-rendering="geometricPrecision"/>
<polygon points="436.50,407.30 436.50,410.70 427.00,409.90 427.00,408.10" fill="#000" shape-rendering="geometricPrecision"/>
<rect x="406" y="491" width="39" height="16" rx="3" ry="3" fill="#fff" stroke="#000" stroke-width="2" shape-rendering="geometricPrecision"/>
<text transform="scale(0.75,1)" x="546.67 557.33 568.80 577.07" y="502.7" font-size="13.5" fill="#000" stroke="#000" stroke-width="0.22" font-weight="normal">JP17</text>
<polygon points="445,495.5 445,503.5 452.5,499.5" fill="#fff" shape-rendering="geometricPrecision"/>
<path d="M445,495.5 L452.5,499.5 L445,503.5" fill="none" stroke="#000" stroke-width="2.2" stroke-linejoin="miter" shape-rendering="geometricPrecision"/>
<polygon points="452.50,501.20 452.50,497.80 462.00,498.60 462.00,500.40" fill="#000" shape-rendering="geometricPrecision"/>
<rect x="669" y="363" width="39" height="16" rx="3" ry="3" fill="#fff" stroke="#000" stroke-width="2" shape-rendering="geometricPrecision"/>
<text transform="scale(0.75,1)" x="897.33 907.73 918.40 929.33" y="375" font-size="13.5" fill="#000" stroke="#000" stroke-width="0.22" font-weight="normal">JP21</text>
<polygon points="708,367 708,375 715.5,371" fill="#fff" shape-rendering="geometricPrecision"/>
<path d="M708,367 L715.5,371 L708,375" fill="none" stroke="#000" stroke-width="2.2" stroke-linejoin="miter" shape-rendering="geometricPrecision"/>
<polygon points="715.50,372.70 715.50,369.30 725.50,370.10 725.50,371.90" fill="#000" shape-rendering="geometricPrecision"/>
<rect x="719" y="418" width="40" height="15" rx="3" ry="3" fill="#fff" stroke="#000" stroke-width="2" shape-rendering="geometricPrecision"/>
<text transform="scale(0.75,1)" x="963.73 974.67 987.73 995.07" y="428.8" font-size="13.5" fill="#000" stroke="#000" stroke-width="0.22" font-weight="normal">JP18</text>
<polygon points="719,422 719,430 711.5,426" fill="#fff" shape-rendering="geometricPrecision"/>
<path d="M719,422 L711.5,426 L719,430" fill="none" stroke="#000" stroke-width="2.2" stroke-linejoin="miter" shape-rendering="geometricPrecision"/>
<polygon points="711.50,424.30 711.50,427.70 703.00,426.90 703.00,425.10" fill="#000" shape-rendering="geometricPrecision"/>
<rect x="626" y="469" width="40" height="16" rx="3" ry="3" fill="#fff" stroke="#000" stroke-width="2" shape-rendering="geometricPrecision"/>
<text transform="scale(0.75,1)" x="839.73 850.00 859.73 870.67" y="481.2" font-size="13.5" fill="#000" stroke="#000" stroke-width="0.22" font-weight="normal">JP20</text>
<polygon points="626,473 626,481 618.5,477" fill="#fff" shape-rendering="geometricPrecision"/>
<path d="M626,473 L618.5,477 L626,481" fill="none" stroke="#000" stroke-width="2.2" stroke-linejoin="miter" shape-rendering="geometricPrecision"/>
<polygon points="618.50,475.30 618.50,478.70 610.00,477.90 610.00,476.10" fill="#000" shape-rendering="geometricPrecision"/>
</svg>
</body></html>
